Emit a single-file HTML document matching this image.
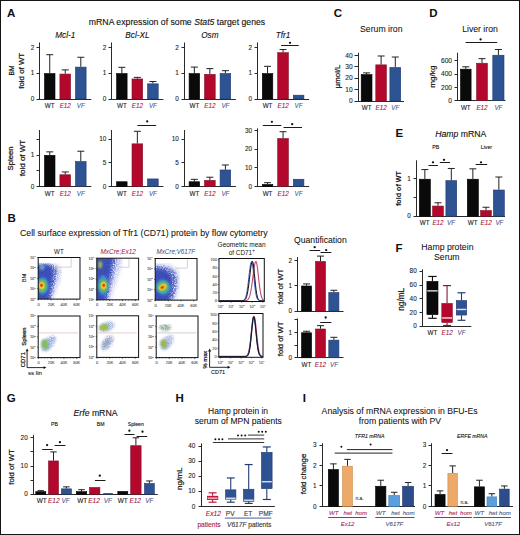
<!DOCTYPE html>
<html><head><meta charset="utf-8"><title>Figure</title>
<style>
html,body{margin:0;padding:0;background:#fff;}
body{width:520px;height:535px;overflow:hidden;position:relative;font-family:"Liberation Sans",sans-serif;}
#frame{position:absolute;left:0;top:0;width:518px;height:533px;border:1px solid #141414;}
svg{position:absolute;left:0;top:0;}
text{stroke-width:0.12px;}
</style></head><body>
<div id="frame"></div>
<svg width="520" height="535" viewBox="0 0 520 535" font-family="&quot;Liberation Sans&quot;, sans-serif"><defs><filter id="b0_5" x="-50%" y="-50%" width="200%" height="200%"><feGaussianBlur stdDeviation="0.5"/></filter><filter id="b0_6" x="-50%" y="-50%" width="200%" height="200%"><feGaussianBlur stdDeviation="0.6"/></filter><filter id="b0_7" x="-50%" y="-50%" width="200%" height="200%"><feGaussianBlur stdDeviation="0.7"/></filter><filter id="b0_8" x="-50%" y="-50%" width="200%" height="200%"><feGaussianBlur stdDeviation="0.8"/></filter><filter id="b0_9" x="-50%" y="-50%" width="200%" height="200%"><feGaussianBlur stdDeviation="0.9"/></filter><filter id="b1_0" x="-50%" y="-50%" width="200%" height="200%"><feGaussianBlur stdDeviation="1.0"/></filter><filter id="b1_2" x="-50%" y="-50%" width="200%" height="200%"><feGaussianBlur stdDeviation="1.2"/></filter><filter id="b1_3" x="-50%" y="-50%" width="200%" height="200%"><feGaussianBlur stdDeviation="1.3"/></filter><filter id="b1_4" x="-50%" y="-50%" width="200%" height="200%"><feGaussianBlur stdDeviation="1.4"/></filter><filter id="b2_0" x="-50%" y="-50%" width="200%" height="200%"><feGaussianBlur stdDeviation="2.0"/></filter><filter id="b2_2" x="-50%" y="-50%" width="200%" height="200%"><feGaussianBlur stdDeviation="2.2"/></filter><clipPath id="c0"><rect x="38.2" y="257.5" width="41.8" height="41.6"/></clipPath><clipPath id="c1"><rect x="96.8" y="258.2" width="41.8" height="41.6"/></clipPath><clipPath id="c2"><rect x="155.2" y="258.5" width="41.8" height="41.6"/></clipPath><clipPath id="c3"><rect x="38.2" y="316" width="41.8" height="41.6"/></clipPath><clipPath id="c4"><rect x="96.8" y="315.8" width="41.8" height="41.6"/></clipPath><clipPath id="c5"><rect x="156.2" y="316" width="41.8" height="41.6"/></clipPath><filter id="speck" x="0" y="0" width="100%" height="100%"><feTurbulence type="fractalNoise" baseFrequency="0.9" numOctaves="2" seed="7" result="n"/><feColorMatrix in="n" type="matrix" values="0 0 0 0 0  0 0 0 0 0  0 0 0 0 0  0 0 0 -2.2 1.85" result="m"/><feComposite in="SourceGraphic" in2="m" operator="in"/></filter></defs><text x="7" y="16.6" font-size="11.5" text-anchor="start" fill="#111" stroke="#111" font-weight="bold" style="stroke-width:0.05px">A</text>
<text x="333.8" y="16.6" font-size="11.5" text-anchor="start" fill="#111" stroke="#111" font-weight="bold" style="stroke-width:0.05px">C</text>
<text x="429.3" y="16.5" font-size="11.5" text-anchor="start" fill="#111" stroke="#111" font-weight="bold" style="stroke-width:0.05px">D</text>
<text x="395.6" y="136.7" font-size="11.5" text-anchor="start" fill="#111" stroke="#111" font-weight="bold" style="stroke-width:0.05px">E</text>
<text x="7.4" y="221.6" font-size="11.5" text-anchor="start" fill="#111" stroke="#111" font-weight="bold" style="stroke-width:0.05px">B</text>
<text x="395.6" y="251.6" font-size="11.5" text-anchor="start" fill="#111" stroke="#111" font-weight="bold" style="stroke-width:0.05px">F</text>
<text x="6.8" y="402" font-size="11.5" text-anchor="start" fill="#111" stroke="#111" font-weight="bold" style="stroke-width:0.05px">G</text>
<text x="175.4" y="401.9" font-size="11.5" text-anchor="start" fill="#111" stroke="#111" font-weight="bold" style="stroke-width:0.05px">H</text>
<text x="302.7" y="402.2" font-size="11.5" text-anchor="start" fill="#111" stroke="#111" font-weight="bold" style="stroke-width:0.05px">I</text>
<text x="177" y="25" font-size="8.7" text-anchor="middle" fill="#111" stroke="#111">mRNA expression of some <tspan font-style="italic">Stat5</tspan> target genes</text>
<text x="65.3" y="37.8" font-size="8.2" text-anchor="middle" fill="#111" stroke="#111" font-style="italic" style="stroke-width:0.1px">Mcl-1</text>
<line x1="39.5" y1="42.5" x2="39.5" y2="100" stroke="#2a2a2a" stroke-width="1"/>
<line x1="36.5" y1="47.5" x2="39.5" y2="47.5" stroke="#2a2a2a" stroke-width="1"/>
<text x="34.2" y="49.61" font-size="6.4" text-anchor="end" fill="#1e1e1e" stroke="#1e1e1e" style="stroke-width:0.1px">2</text>
<line x1="36.5" y1="73.5" x2="39.5" y2="73.5" stroke="#2a2a2a" stroke-width="1"/>
<text x="34.2" y="75.36" font-size="6.4" text-anchor="end" fill="#1e1e1e" stroke="#1e1e1e" style="stroke-width:0.1px">1</text>
<line x1="36.5" y1="99.5" x2="39.5" y2="99.5" stroke="#2a2a2a" stroke-width="1"/>
<text x="34.2" y="101.11" font-size="6.4" text-anchor="end" fill="#1e1e1e" stroke="#1e1e1e" style="stroke-width:0.1px">0</text>
<line x1="39" y1="99.5" x2="91.3" y2="99.5" stroke="#2a2a2a" stroke-width="1"/>
<line x1="49.75" y1="73.25" x2="49.75" y2="54.71" stroke="#222" stroke-width="1"/>
<line x1="46.25" y1="54.71" x2="53.25" y2="54.71" stroke="#222" stroke-width="1"/>
<rect x="44.5" y="73.55" width="10.5" height="25.45" fill="#0a0a0a" stroke="#000" stroke-width="0.6"/>
<line x1="65.25" y1="73.77" x2="65.25" y2="69.9" stroke="#222" stroke-width="1"/>
<line x1="61.75" y1="69.9" x2="68.75" y2="69.9" stroke="#222" stroke-width="1"/>
<rect x="59.9" y="74.06" width="10.7" height="24.93" fill="#b3082c" stroke="#82102c" stroke-width="0.6"/>
<line x1="80.8" y1="66.81" x2="80.8" y2="57.28" stroke="#222" stroke-width="1"/>
<line x1="77.3" y1="57.28" x2="84.3" y2="57.28" stroke="#222" stroke-width="1"/>
<rect x="75.5" y="67.11" width="10.6" height="31.89" fill="#2e5393" stroke="#1e3670" stroke-width="0.6"/>
<text x="49.75" y="108.1" font-size="6.3" text-anchor="middle" fill="#1a1a1a" stroke="#1a1a1a" style="stroke-width:0.1px">WT</text>
<text x="65.25" y="108.1" font-size="6.3" text-anchor="middle" fill="#a3163e" stroke="#a3163e" font-style="italic" style="stroke-width:0.1px">E12</text>
<text x="80.8" y="108.1" font-size="6.3" text-anchor="middle" fill="#4a5894" stroke="#4a5894" font-style="italic" style="stroke-width:0.1px">VF</text>
<text x="137.4" y="37.8" font-size="8.2" text-anchor="middle" fill="#111" stroke="#111" font-style="italic" style="stroke-width:0.1px">Bcl-XL</text>
<line x1="111.5" y1="42.5" x2="111.5" y2="100" stroke="#2a2a2a" stroke-width="1"/>
<line x1="108.5" y1="47.5" x2="111.5" y2="47.5" stroke="#2a2a2a" stroke-width="1"/>
<text x="106.3" y="49.61" font-size="6.4" text-anchor="end" fill="#1e1e1e" stroke="#1e1e1e" style="stroke-width:0.1px">2</text>
<line x1="108.5" y1="73.5" x2="111.5" y2="73.5" stroke="#2a2a2a" stroke-width="1"/>
<text x="106.3" y="75.36" font-size="6.4" text-anchor="end" fill="#1e1e1e" stroke="#1e1e1e" style="stroke-width:0.1px">1</text>
<line x1="108.5" y1="99.5" x2="111.5" y2="99.5" stroke="#2a2a2a" stroke-width="1"/>
<text x="106.3" y="101.11" font-size="6.4" text-anchor="end" fill="#1e1e1e" stroke="#1e1e1e" style="stroke-width:0.1px">0</text>
<line x1="111" y1="99.5" x2="163.4" y2="99.5" stroke="#2a2a2a" stroke-width="1"/>
<line x1="121.85" y1="73.25" x2="121.85" y2="67.33" stroke="#222" stroke-width="1"/>
<line x1="118.35" y1="67.33" x2="125.35" y2="67.33" stroke="#222" stroke-width="1"/>
<rect x="116.6" y="73.55" width="10.5" height="25.45" fill="#0a0a0a" stroke="#000" stroke-width="0.6"/>
<line x1="137.35" y1="78.66" x2="137.35" y2="77.37" stroke="#222" stroke-width="1"/>
<line x1="133.85" y1="77.37" x2="140.85" y2="77.37" stroke="#222" stroke-width="1"/>
<rect x="132" y="78.96" width="10.7" height="20.04" fill="#b3082c" stroke="#82102c" stroke-width="0.6"/>
<line x1="152.9" y1="83.55" x2="152.9" y2="81.49" stroke="#222" stroke-width="1"/>
<line x1="149.4" y1="81.49" x2="156.4" y2="81.49" stroke="#222" stroke-width="1"/>
<rect x="147.6" y="83.85" width="10.6" height="15.15" fill="#2e5393" stroke="#1e3670" stroke-width="0.6"/>
<text x="121.85" y="108.1" font-size="6.3" text-anchor="middle" fill="#1a1a1a" stroke="#1a1a1a" style="stroke-width:0.1px">WT</text>
<text x="137.35" y="108.1" font-size="6.3" text-anchor="middle" fill="#a3163e" stroke="#a3163e" font-style="italic" style="stroke-width:0.1px">E12</text>
<text x="152.9" y="108.1" font-size="6.3" text-anchor="middle" fill="#4a5894" stroke="#4a5894" font-style="italic" style="stroke-width:0.1px">VF</text>
<text x="209.9" y="37.8" font-size="8.2" text-anchor="middle" fill="#111" stroke="#111" font-style="italic" style="stroke-width:0.1px">Osm</text>
<line x1="184.5" y1="42.5" x2="184.5" y2="100" stroke="#2a2a2a" stroke-width="1"/>
<line x1="181.5" y1="47.5" x2="184.5" y2="47.5" stroke="#2a2a2a" stroke-width="1"/>
<text x="178.8" y="49.61" font-size="6.4" text-anchor="end" fill="#1e1e1e" stroke="#1e1e1e" style="stroke-width:0.1px">2</text>
<line x1="181.5" y1="73.5" x2="184.5" y2="73.5" stroke="#2a2a2a" stroke-width="1"/>
<text x="178.8" y="75.36" font-size="6.4" text-anchor="end" fill="#1e1e1e" stroke="#1e1e1e" style="stroke-width:0.1px">1</text>
<line x1="181.5" y1="99.5" x2="184.5" y2="99.5" stroke="#2a2a2a" stroke-width="1"/>
<text x="178.8" y="101.11" font-size="6.4" text-anchor="end" fill="#1e1e1e" stroke="#1e1e1e" style="stroke-width:0.1px">0</text>
<line x1="184" y1="99.5" x2="235.9" y2="99.5" stroke="#2a2a2a" stroke-width="1"/>
<line x1="194.35" y1="73.25" x2="194.35" y2="67.07" stroke="#222" stroke-width="1"/>
<line x1="190.85" y1="67.07" x2="197.85" y2="67.07" stroke="#222" stroke-width="1"/>
<rect x="189.1" y="73.55" width="10.5" height="25.45" fill="#0a0a0a" stroke="#000" stroke-width="0.6"/>
<line x1="209.85" y1="74.02" x2="209.85" y2="68.62" stroke="#222" stroke-width="1"/>
<line x1="206.35" y1="68.62" x2="213.35" y2="68.62" stroke="#222" stroke-width="1"/>
<rect x="204.5" y="74.32" width="10.7" height="24.68" fill="#b3082c" stroke="#82102c" stroke-width="0.6"/>
<line x1="225.4" y1="73.25" x2="225.4" y2="70.67" stroke="#222" stroke-width="1"/>
<line x1="221.9" y1="70.67" x2="228.9" y2="70.67" stroke="#222" stroke-width="1"/>
<rect x="220.1" y="73.55" width="10.6" height="25.45" fill="#2e5393" stroke="#1e3670" stroke-width="0.6"/>
<text x="194.35" y="108.1" font-size="6.3" text-anchor="middle" fill="#1a1a1a" stroke="#1a1a1a" style="stroke-width:0.1px">WT</text>
<text x="209.85" y="108.1" font-size="6.3" text-anchor="middle" fill="#a3163e" stroke="#a3163e" font-style="italic" style="stroke-width:0.1px">E12</text>
<text x="225.4" y="108.1" font-size="6.3" text-anchor="middle" fill="#4a5894" stroke="#4a5894" font-style="italic" style="stroke-width:0.1px">VF</text>
<text x="283.1" y="37.8" font-size="8.2" text-anchor="middle" fill="#111" stroke="#111" font-style="italic" style="stroke-width:0.1px">Tfr1</text>
<line x1="257.5" y1="42.5" x2="257.5" y2="100" stroke="#2a2a2a" stroke-width="1"/>
<line x1="254.5" y1="47.5" x2="257.5" y2="47.5" stroke="#2a2a2a" stroke-width="1"/>
<text x="252" y="49.61" font-size="6.4" text-anchor="end" fill="#1e1e1e" stroke="#1e1e1e" style="stroke-width:0.1px">2</text>
<line x1="254.5" y1="73.5" x2="257.5" y2="73.5" stroke="#2a2a2a" stroke-width="1"/>
<text x="252" y="75.36" font-size="6.4" text-anchor="end" fill="#1e1e1e" stroke="#1e1e1e" style="stroke-width:0.1px">1</text>
<line x1="254.5" y1="99.5" x2="257.5" y2="99.5" stroke="#2a2a2a" stroke-width="1"/>
<text x="252" y="101.11" font-size="6.4" text-anchor="end" fill="#1e1e1e" stroke="#1e1e1e" style="stroke-width:0.1px">0</text>
<line x1="257" y1="99.5" x2="309.1" y2="99.5" stroke="#2a2a2a" stroke-width="1"/>
<line x1="267.55" y1="73.25" x2="267.55" y2="66.3" stroke="#222" stroke-width="1"/>
<line x1="264.05" y1="66.3" x2="271.05" y2="66.3" stroke="#222" stroke-width="1"/>
<rect x="262.3" y="73.55" width="10.5" height="25.45" fill="#0a0a0a" stroke="#000" stroke-width="0.6"/>
<line x1="283.05" y1="52.39" x2="283.05" y2="49.56" stroke="#222" stroke-width="1"/>
<line x1="279.55" y1="49.56" x2="286.55" y2="49.56" stroke="#222" stroke-width="1"/>
<rect x="277.7" y="52.69" width="10.7" height="46.31" fill="#b3082c" stroke="#82102c" stroke-width="0.6"/>
<rect x="293.3" y="95.18" width="10.6" height="3.82" fill="#2e5393" stroke="#1e3670" stroke-width="0.6"/>
<text x="267.55" y="108.1" font-size="6.3" text-anchor="middle" fill="#1a1a1a" stroke="#1a1a1a" style="stroke-width:0.1px">WT</text>
<text x="283.05" y="108.1" font-size="6.3" text-anchor="middle" fill="#a3163e" stroke="#a3163e" font-style="italic" style="stroke-width:0.1px">E12</text>
<text x="298.6" y="108.1" font-size="6.3" text-anchor="middle" fill="#4a5894" stroke="#4a5894" font-style="italic" style="stroke-width:0.1px">VF</text>
<line x1="281.1" y1="45.5" x2="298.7" y2="45.5" stroke="#1a1a1a" stroke-width="1"/>
<circle cx="290" cy="42.8" r="1.15" fill="#111"/>
<line x1="39.5" y1="130" x2="39.5" y2="187" stroke="#2a2a2a" stroke-width="1"/>
<line x1="36.5" y1="139.5" x2="39.5" y2="139.5" stroke="#2a2a2a" stroke-width="1"/>
<line x1="36.5" y1="155.5" x2="39.5" y2="155.5" stroke="#2a2a2a" stroke-width="1"/>
<text x="34.2" y="157.11" font-size="6.4" text-anchor="end" fill="#1e1e1e" stroke="#1e1e1e" style="stroke-width:0.1px">1</text>
<line x1="36.5" y1="170.5" x2="39.5" y2="170.5" stroke="#2a2a2a" stroke-width="1"/>
<line x1="36.5" y1="186.5" x2="39.5" y2="186.5" stroke="#2a2a2a" stroke-width="1"/>
<text x="34.2" y="188.51" font-size="6.4" text-anchor="end" fill="#1e1e1e" stroke="#1e1e1e" style="stroke-width:0.1px">0</text>
<line x1="39" y1="186.5" x2="91.3" y2="186.5" stroke="#2a2a2a" stroke-width="1"/>
<line x1="49.75" y1="155" x2="49.75" y2="151.86" stroke="#222" stroke-width="1"/>
<line x1="46.25" y1="151.86" x2="53.25" y2="151.86" stroke="#222" stroke-width="1"/>
<rect x="44.5" y="155.3" width="10.5" height="31.1" fill="#0a0a0a" stroke="#000" stroke-width="0.6"/>
<line x1="65.25" y1="174.47" x2="65.25" y2="171.96" stroke="#222" stroke-width="1"/>
<line x1="61.75" y1="171.96" x2="68.75" y2="171.96" stroke="#222" stroke-width="1"/>
<rect x="59.9" y="174.77" width="10.7" height="11.63" fill="#b3082c" stroke="#82102c" stroke-width="0.6"/>
<line x1="80.8" y1="161.28" x2="80.8" y2="151.23" stroke="#222" stroke-width="1"/>
<line x1="77.3" y1="151.23" x2="84.3" y2="151.23" stroke="#222" stroke-width="1"/>
<rect x="75.5" y="161.58" width="10.6" height="24.82" fill="#2e5393" stroke="#1e3670" stroke-width="0.6"/>
<text x="49.75" y="196.2" font-size="6.3" text-anchor="middle" fill="#1a1a1a" stroke="#1a1a1a" style="stroke-width:0.1px">WT</text>
<text x="65.25" y="196.2" font-size="6.3" text-anchor="middle" fill="#a3163e" stroke="#a3163e" font-style="italic" style="stroke-width:0.1px">E12</text>
<text x="80.8" y="196.2" font-size="6.3" text-anchor="middle" fill="#4a5894" stroke="#4a5894" font-style="italic" style="stroke-width:0.1px">VF</text>
<line x1="111.5" y1="130" x2="111.5" y2="187" stroke="#2a2a2a" stroke-width="1"/>
<line x1="108.5" y1="139.5" x2="111.5" y2="139.5" stroke="#2a2a2a" stroke-width="1"/>
<text x="106.3" y="141.41" font-size="6.4" text-anchor="end" fill="#1e1e1e" stroke="#1e1e1e" style="stroke-width:0.1px">10</text>
<line x1="108.5" y1="162.5" x2="111.5" y2="162.5" stroke="#2a2a2a" stroke-width="1"/>
<text x="106.3" y="164.96" font-size="6.4" text-anchor="end" fill="#1e1e1e" stroke="#1e1e1e" style="stroke-width:0.1px">5</text>
<line x1="108.5" y1="186.5" x2="111.5" y2="186.5" stroke="#2a2a2a" stroke-width="1"/>
<text x="106.3" y="188.51" font-size="6.4" text-anchor="end" fill="#1e1e1e" stroke="#1e1e1e" style="stroke-width:0.1px">0</text>
<line x1="111" y1="186.5" x2="163.4" y2="186.5" stroke="#2a2a2a" stroke-width="1"/>
<rect x="116.6" y="181.75" width="10.5" height="4.65" fill="#0a0a0a" stroke="#000" stroke-width="0.6"/>
<line x1="137.35" y1="143.54" x2="137.35" y2="131.29" stroke="#222" stroke-width="1"/>
<line x1="133.85" y1="131.29" x2="140.85" y2="131.29" stroke="#222" stroke-width="1"/>
<rect x="132" y="143.84" width="10.7" height="42.56" fill="#b3082c" stroke="#82102c" stroke-width="0.6"/>
<rect x="147.6" y="178.93" width="10.6" height="7.47" fill="#2e5393" stroke="#1e3670" stroke-width="0.6"/>
<text x="121.85" y="196.2" font-size="6.3" text-anchor="middle" fill="#1a1a1a" stroke="#1a1a1a" style="stroke-width:0.1px">WT</text>
<text x="137.35" y="196.2" font-size="6.3" text-anchor="middle" fill="#a3163e" stroke="#a3163e" font-style="italic" style="stroke-width:0.1px">E12</text>
<text x="152.9" y="196.2" font-size="6.3" text-anchor="middle" fill="#4a5894" stroke="#4a5894" font-style="italic" style="stroke-width:0.1px">VF</text>
<line x1="184.5" y1="130" x2="184.5" y2="187" stroke="#2a2a2a" stroke-width="1"/>
<line x1="181.5" y1="139.5" x2="184.5" y2="139.5" stroke="#2a2a2a" stroke-width="1"/>
<text x="178.8" y="141.41" font-size="6.4" text-anchor="end" fill="#1e1e1e" stroke="#1e1e1e" style="stroke-width:0.1px">10</text>
<line x1="181.5" y1="162.5" x2="184.5" y2="162.5" stroke="#2a2a2a" stroke-width="1"/>
<text x="178.8" y="164.96" font-size="6.4" text-anchor="end" fill="#1e1e1e" stroke="#1e1e1e" style="stroke-width:0.1px">5</text>
<line x1="181.5" y1="186.5" x2="184.5" y2="186.5" stroke="#2a2a2a" stroke-width="1"/>
<text x="178.8" y="188.51" font-size="6.4" text-anchor="end" fill="#1e1e1e" stroke="#1e1e1e" style="stroke-width:0.1px">0</text>
<line x1="184" y1="186.5" x2="235.9" y2="186.5" stroke="#2a2a2a" stroke-width="1"/>
<line x1="194.35" y1="181.45" x2="194.35" y2="179.34" stroke="#222" stroke-width="1"/>
<line x1="190.85" y1="179.34" x2="197.85" y2="179.34" stroke="#222" stroke-width="1"/>
<rect x="189.1" y="181.75" width="10.5" height="4.65" fill="#0a0a0a" stroke="#000" stroke-width="0.6"/>
<line x1="209.85" y1="180.04" x2="209.85" y2="177.22" stroke="#222" stroke-width="1"/>
<line x1="206.35" y1="177.22" x2="213.35" y2="177.22" stroke="#222" stroke-width="1"/>
<rect x="204.5" y="180.34" width="10.7" height="6.06" fill="#b3082c" stroke="#82102c" stroke-width="0.6"/>
<line x1="225.4" y1="169.68" x2="225.4" y2="164.97" stroke="#222" stroke-width="1"/>
<line x1="221.9" y1="164.97" x2="228.9" y2="164.97" stroke="#222" stroke-width="1"/>
<rect x="220.1" y="169.98" width="10.6" height="16.42" fill="#2e5393" stroke="#1e3670" stroke-width="0.6"/>
<text x="194.35" y="196.2" font-size="6.3" text-anchor="middle" fill="#1a1a1a" stroke="#1a1a1a" style="stroke-width:0.1px">WT</text>
<text x="209.85" y="196.2" font-size="6.3" text-anchor="middle" fill="#a3163e" stroke="#a3163e" font-style="italic" style="stroke-width:0.1px">E12</text>
<text x="225.4" y="196.2" font-size="6.3" text-anchor="middle" fill="#4a5894" stroke="#4a5894" font-style="italic" style="stroke-width:0.1px">VF</text>
<line x1="137.4" y1="125.5" x2="156.2" y2="125.5" stroke="#1a1a1a" stroke-width="1"/>
<circle cx="147.2" cy="121.4" r="1.15" fill="#111"/>
<line x1="257.5" y1="128.3" x2="257.5" y2="187" stroke="#2a2a2a" stroke-width="1"/>
<line x1="254.5" y1="130.5" x2="257.5" y2="130.5" stroke="#2a2a2a" stroke-width="1"/>
<text x="252" y="132.71" font-size="6.4" text-anchor="end" fill="#1e1e1e" stroke="#1e1e1e" style="stroke-width:0.1px">30</text>
<line x1="254.5" y1="149.5" x2="257.5" y2="149.5" stroke="#2a2a2a" stroke-width="1"/>
<text x="252" y="151.31" font-size="6.4" text-anchor="end" fill="#1e1e1e" stroke="#1e1e1e" style="stroke-width:0.1px">20</text>
<line x1="254.5" y1="167.5" x2="257.5" y2="167.5" stroke="#2a2a2a" stroke-width="1"/>
<text x="252" y="169.91" font-size="6.4" text-anchor="end" fill="#1e1e1e" stroke="#1e1e1e" style="stroke-width:0.1px">10</text>
<line x1="254.5" y1="186.5" x2="257.5" y2="186.5" stroke="#2a2a2a" stroke-width="1"/>
<text x="252" y="188.51" font-size="6.4" text-anchor="end" fill="#1e1e1e" stroke="#1e1e1e" style="stroke-width:0.1px">0</text>
<line x1="257" y1="186.5" x2="309.1" y2="186.5" stroke="#2a2a2a" stroke-width="1"/>
<line x1="267.55" y1="184.17" x2="267.55" y2="182.68" stroke="#222" stroke-width="1"/>
<line x1="264.05" y1="182.68" x2="271.05" y2="182.68" stroke="#222" stroke-width="1"/>
<rect x="262.3" y="184.47" width="10.5" height="1.93" fill="#0a0a0a" stroke="#000" stroke-width="0.6"/>
<line x1="283.05" y1="138.23" x2="283.05" y2="131.72" stroke="#222" stroke-width="1"/>
<line x1="279.55" y1="131.72" x2="286.55" y2="131.72" stroke="#222" stroke-width="1"/>
<rect x="277.7" y="138.53" width="10.7" height="47.87" fill="#b3082c" stroke="#82102c" stroke-width="0.6"/>
<rect x="293.3" y="179.26" width="10.6" height="7.14" fill="#2e5393" stroke="#1e3670" stroke-width="0.6"/>
<text x="267.55" y="196.2" font-size="6.3" text-anchor="middle" fill="#1a1a1a" stroke="#1a1a1a" style="stroke-width:0.1px">WT</text>
<text x="283.05" y="196.2" font-size="6.3" text-anchor="middle" fill="#a3163e" stroke="#a3163e" font-style="italic" style="stroke-width:0.1px">E12</text>
<text x="298.6" y="196.2" font-size="6.3" text-anchor="middle" fill="#4a5894" stroke="#4a5894" font-style="italic" style="stroke-width:0.1px">VF</text>
<line x1="262.8" y1="125.5" x2="281.3" y2="125.5" stroke="#1a1a1a" stroke-width="1"/>
<circle cx="271.9" cy="121.8" r="1.15" fill="#111"/>
<line x1="283.5" y1="127.5" x2="302" y2="127.5" stroke="#1a1a1a" stroke-width="1"/>
<circle cx="292.2" cy="124.2" r="1.15" fill="#111"/>
<text x="13.6" y="70.5" font-size="7.2" text-anchor="middle" fill="#111" stroke="#111" textLength="10" lengthAdjust="spacingAndGlyphs" style="stroke-width:0.22px" transform="rotate(-90 13.6 70.5)">BM</text>
<text x="24.5" y="70.8" font-size="7.9" text-anchor="middle" fill="#111" stroke="#111" style="stroke-width:0.22px" transform="rotate(-90 24.5 70.8)">fold of WT</text>
<text x="13.3" y="158.5" font-size="7.7" text-anchor="middle" fill="#111" stroke="#111" style="stroke-width:0.22px" transform="rotate(-90 13.3 158.5)">Spleen</text>
<text x="24.5" y="158" font-size="8" text-anchor="middle" fill="#111" stroke="#111" style="stroke-width:0.22px" transform="rotate(-90 24.5 158)">fold of WT</text>
<text x="381.3" y="32" font-size="8.7" text-anchor="middle" fill="#111" stroke="#111" style="stroke-width:0.06px">Serum iron</text>
<line x1="358.5" y1="52.7" x2="358.5" y2="102" stroke="#2a2a2a" stroke-width="1"/>
<line x1="354.5" y1="55.5" x2="358.5" y2="55.5" stroke="#2a2a2a" stroke-width="1"/>
<text x="352.7" y="57.6" font-size="6.6" text-anchor="end" fill="#1e1e1e" stroke="#1e1e1e" style="stroke-width:0.1px">40</text>
<line x1="354.5" y1="66.5" x2="358.5" y2="66.5" stroke="#2a2a2a" stroke-width="1"/>
<text x="352.7" y="69.02" font-size="6.6" text-anchor="end" fill="#1e1e1e" stroke="#1e1e1e" style="stroke-width:0.1px">30</text>
<line x1="354.5" y1="78.5" x2="358.5" y2="78.5" stroke="#2a2a2a" stroke-width="1"/>
<text x="352.7" y="80.44" font-size="6.6" text-anchor="end" fill="#1e1e1e" stroke="#1e1e1e" style="stroke-width:0.1px">20</text>
<line x1="354.5" y1="89.5" x2="358.5" y2="89.5" stroke="#2a2a2a" stroke-width="1"/>
<text x="352.7" y="91.86" font-size="6.6" text-anchor="end" fill="#1e1e1e" stroke="#1e1e1e" style="stroke-width:0.1px">10</text>
<line x1="354.5" y1="101.5" x2="358.5" y2="101.5" stroke="#2a2a2a" stroke-width="1"/>
<text x="352.7" y="103.28" font-size="6.6" text-anchor="end" fill="#1e1e1e" stroke="#1e1e1e" style="stroke-width:0.1px">0</text>
<line x1="358" y1="101.5" x2="404" y2="101.5" stroke="#2a2a2a" stroke-width="1"/>
<line x1="366.6" y1="74.26" x2="366.6" y2="72.89" stroke="#222" stroke-width="1"/>
<line x1="363.1" y1="72.89" x2="370.1" y2="72.89" stroke="#222" stroke-width="1"/>
<rect x="361.2" y="74.56" width="10.8" height="26.54" fill="#0a0a0a" stroke="#000" stroke-width="0.6"/>
<line x1="381.1" y1="64.56" x2="381.1" y2="55.99" stroke="#222" stroke-width="1"/>
<line x1="377.6" y1="55.99" x2="384.6" y2="55.99" stroke="#222" stroke-width="1"/>
<rect x="375.8" y="64.86" width="10.6" height="36.24" fill="#b3082c" stroke="#82102c" stroke-width="0.6"/>
<line x1="395.3" y1="67.18" x2="395.3" y2="57.02" stroke="#222" stroke-width="1"/>
<line x1="391.8" y1="57.02" x2="398.8" y2="57.02" stroke="#222" stroke-width="1"/>
<rect x="389.9" y="67.48" width="10.8" height="33.62" fill="#2e5393" stroke="#1e3670" stroke-width="0.6"/>
<text x="366.6" y="109.6" font-size="6.3" text-anchor="middle" fill="#1a1a1a" stroke="#1a1a1a" style="stroke-width:0.1px">WT</text>
<text x="381.1" y="109.6" font-size="6.3" text-anchor="middle" fill="#a3163e" stroke="#a3163e" font-style="italic" style="stroke-width:0.1px">E12</text>
<text x="395.3" y="109.6" font-size="6.3" text-anchor="middle" fill="#4a5894" stroke="#4a5894" font-style="italic" style="stroke-width:0.1px">VF</text>
<text x="340.2" y="76.4" font-size="7.8" text-anchor="middle" fill="#111" stroke="#111" style="stroke-width:0.22px" transform="rotate(-90 340.2 76.4)">µmol/L</text>
<text x="480" y="32" font-size="8.7" text-anchor="middle" fill="#111" stroke="#111" style="stroke-width:0.06px">Liver iron</text>
<line x1="457.5" y1="52.7" x2="457.5" y2="101" stroke="#2a2a2a" stroke-width="1"/>
<line x1="454.5" y1="60.5" x2="457.5" y2="60.5" stroke="#2a2a2a" stroke-width="1"/>
<text x="452" y="62.83" font-size="6.6" text-anchor="end" fill="#1e1e1e" stroke="#1e1e1e" style="stroke-width:0.1px">600</text>
<line x1="454.5" y1="74.5" x2="457.5" y2="74.5" stroke="#2a2a2a" stroke-width="1"/>
<text x="452" y="76.18" font-size="6.6" text-anchor="end" fill="#1e1e1e" stroke="#1e1e1e" style="stroke-width:0.1px">400</text>
<line x1="454.5" y1="87.5" x2="457.5" y2="87.5" stroke="#2a2a2a" stroke-width="1"/>
<text x="452" y="89.53" font-size="6.6" text-anchor="end" fill="#1e1e1e" stroke="#1e1e1e" style="stroke-width:0.1px">200</text>
<line x1="454.5" y1="100.5" x2="457.5" y2="100.5" stroke="#2a2a2a" stroke-width="1"/>
<text x="452" y="102.88" font-size="6.6" text-anchor="end" fill="#1e1e1e" stroke="#1e1e1e" style="stroke-width:0.1px">0</text>
<line x1="457" y1="100.5" x2="505.5" y2="100.5" stroke="#2a2a2a" stroke-width="1"/>
<line x1="465.8" y1="68.86" x2="465.8" y2="66.79" stroke="#222" stroke-width="1"/>
<line x1="462.3" y1="66.79" x2="469.3" y2="66.79" stroke="#222" stroke-width="1"/>
<rect x="460.5" y="69.16" width="10.6" height="31.54" fill="#0a0a0a" stroke="#000" stroke-width="0.6"/>
<line x1="482" y1="62.92" x2="482" y2="58.65" stroke="#222" stroke-width="1"/>
<line x1="478.5" y1="58.65" x2="485.5" y2="58.65" stroke="#222" stroke-width="1"/>
<rect x="476.6" y="63.22" width="10.8" height="37.48" fill="#b3082c" stroke="#82102c" stroke-width="0.6"/>
<line x1="498.4" y1="54.91" x2="498.4" y2="49.5" stroke="#222" stroke-width="1"/>
<line x1="494.9" y1="49.5" x2="501.9" y2="49.5" stroke="#222" stroke-width="1"/>
<rect x="492.8" y="55.21" width="11.2" height="45.49" fill="#2e5393" stroke="#1e3670" stroke-width="0.6"/>
<text x="465.8" y="109.6" font-size="6.3" text-anchor="middle" fill="#1a1a1a" stroke="#1a1a1a" style="stroke-width:0.1px">WT</text>
<text x="482" y="109.6" font-size="6.3" text-anchor="middle" fill="#a3163e" stroke="#a3163e" font-style="italic" style="stroke-width:0.1px">E12</text>
<text x="498.4" y="109.6" font-size="6.3" text-anchor="middle" fill="#4a5894" stroke="#4a5894" font-style="italic" style="stroke-width:0.1px">VF</text>
<line x1="465.6" y1="42.5" x2="497.2" y2="42.5" stroke="#1a1a1a" stroke-width="1"/>
<circle cx="480.6" cy="39.4" r="1.15" fill="#111"/>
<text x="435.2" y="76.6" font-size="8.1" text-anchor="middle" fill="#111" stroke="#111" style="stroke-width:0.22px" transform="rotate(-90 435.2 76.6)">mg/kg</text>
<text x="460.8" y="137.1" font-size="8.7" text-anchor="middle" fill="#111" stroke="#111"><tspan font-style="italic">Hamp</tspan> mRNA</text>
<text x="435.8" y="148.6" font-size="5.2" text-anchor="middle" fill="#111" stroke="#111" style="stroke-width:0.1px">PB</text>
<text x="486.4" y="148.6" font-size="5.2" text-anchor="middle" fill="#111" stroke="#111" style="stroke-width:0.1px">Liver</text>
<line x1="416.5" y1="160.3" x2="416.5" y2="217" stroke="#2a2a2a" stroke-width="1"/>
<line x1="413.5" y1="178.5" x2="416.5" y2="178.5" stroke="#2a2a2a" stroke-width="1"/>
<text x="410.8" y="181.01" font-size="6.4" text-anchor="end" fill="#1e1e1e" stroke="#1e1e1e" style="stroke-width:0.1px">1</text>
<line x1="413.5" y1="197.5" x2="416.5" y2="197.5" stroke="#2a2a2a" stroke-width="1"/>
<line x1="413.5" y1="216.5" x2="416.5" y2="216.5" stroke="#2a2a2a" stroke-width="1"/>
<text x="410.8" y="218.31" font-size="6.4" text-anchor="end" fill="#1e1e1e" stroke="#1e1e1e" style="stroke-width:0.1px">0</text>
<line x1="416" y1="216.5" x2="505" y2="216.5" stroke="#2a2a2a" stroke-width="1"/>
<line x1="424.85" y1="178.9" x2="424.85" y2="169.57" stroke="#222" stroke-width="1"/>
<line x1="421.35" y1="169.57" x2="428.35" y2="169.57" stroke="#222" stroke-width="1"/>
<rect x="419.3" y="179.2" width="11.1" height="37" fill="#0a0a0a" stroke="#000" stroke-width="0.6"/>
<line x1="438" y1="205.76" x2="438" y2="202.77" stroke="#222" stroke-width="1"/>
<line x1="434.5" y1="202.77" x2="441.5" y2="202.77" stroke="#222" stroke-width="1"/>
<rect x="432.6" y="206.06" width="10.8" height="10.14" fill="#b3082c" stroke="#82102c" stroke-width="0.6"/>
<line x1="451.3" y1="180.39" x2="451.3" y2="168.46" stroke="#222" stroke-width="1"/>
<line x1="447.8" y1="168.46" x2="454.8" y2="168.46" stroke="#222" stroke-width="1"/>
<rect x="445.9" y="180.69" width="10.8" height="35.51" fill="#2e5393" stroke="#1e3670" stroke-width="0.6"/>
<line x1="472.85" y1="178.9" x2="472.85" y2="168.83" stroke="#222" stroke-width="1"/>
<line x1="469.35" y1="168.83" x2="476.35" y2="168.83" stroke="#222" stroke-width="1"/>
<rect x="467.3" y="179.2" width="11.1" height="37" fill="#0a0a0a" stroke="#000" stroke-width="0.6"/>
<line x1="486" y1="210.23" x2="486" y2="207.25" stroke="#222" stroke-width="1"/>
<line x1="482.5" y1="207.25" x2="489.5" y2="207.25" stroke="#222" stroke-width="1"/>
<rect x="480.6" y="210.53" width="10.8" height="5.67" fill="#b3082c" stroke="#82102c" stroke-width="0.6"/>
<line x1="498.85" y1="189.72" x2="498.85" y2="177.03" stroke="#222" stroke-width="1"/>
<line x1="495.35" y1="177.03" x2="502.35" y2="177.03" stroke="#222" stroke-width="1"/>
<rect x="493.4" y="190.02" width="10.9" height="26.18" fill="#2e5393" stroke="#1e3670" stroke-width="0.6"/>
<line x1="428.5" y1="165.5" x2="437.9" y2="165.5" stroke="#1a1a1a" stroke-width="1"/>
<circle cx="433" cy="162.3" r="1.15" fill="#111"/>
<line x1="439.8" y1="162.5" x2="450" y2="162.5" stroke="#1a1a1a" stroke-width="1"/>
<circle cx="444" cy="159.8" r="1.15" fill="#111"/>
<line x1="475.6" y1="164.5" x2="487.2" y2="164.5" stroke="#1a1a1a" stroke-width="1"/>
<circle cx="481" cy="162.3" r="1.15" fill="#111"/>
<text x="424.6" y="225.3" font-size="6.3" text-anchor="middle" fill="#1a1a1a" stroke="#1a1a1a" style="stroke-width:0.1px">WT</text>
<text x="438" y="225.3" font-size="6.3" text-anchor="middle" fill="#a3163e" stroke="#a3163e" font-style="italic" style="stroke-width:0.1px">E12</text>
<text x="451" y="225.3" font-size="6.3" text-anchor="middle" fill="#4a5894" stroke="#4a5894" font-style="italic" style="stroke-width:0.1px">VF</text>
<text x="472.6" y="225.3" font-size="6.3" text-anchor="middle" fill="#1a1a1a" stroke="#1a1a1a" style="stroke-width:0.1px">WT</text>
<text x="486.2" y="225.3" font-size="6.3" text-anchor="middle" fill="#a3163e" stroke="#a3163e" font-style="italic" style="stroke-width:0.1px">E12</text>
<text x="499.4" y="225.3" font-size="6.3" text-anchor="middle" fill="#4a5894" stroke="#4a5894" font-style="italic" style="stroke-width:0.1px">VF</text>
<text x="401" y="188.6" font-size="7.4" text-anchor="middle" fill="#111" stroke="#111" font-weight="bold" textLength="35" lengthAdjust="spacingAndGlyphs" style="stroke-width:0.05px" transform="rotate(-90 401 188.6)">fold of WT</text>
<text x="447.4" y="250" font-size="8.7" text-anchor="middle" fill="#111" stroke="#111" style="stroke-width:0.06px">Hamp protein</text>
<text x="446.8" y="260.2" font-size="8.7" text-anchor="middle" fill="#111" stroke="#111" style="stroke-width:0.06px">Serum</text>
<line x1="422.5" y1="269.3" x2="422.5" y2="327" stroke="#2a2a2a" stroke-width="1"/>
<line x1="419.5" y1="271.5" x2="422.5" y2="271.5" stroke="#2a2a2a" stroke-width="1"/>
<text x="416.7" y="273.43" font-size="6.4" text-anchor="end" fill="#1e1e1e" stroke="#1e1e1e" style="stroke-width:0.1px">80</text>
<line x1="419.5" y1="285.5" x2="422.5" y2="285.5" stroke="#2a2a2a" stroke-width="1"/>
<text x="416.7" y="287.15" font-size="6.4" text-anchor="end" fill="#1e1e1e" stroke="#1e1e1e" style="stroke-width:0.1px">60</text>
<line x1="419.5" y1="298.5" x2="422.5" y2="298.5" stroke="#2a2a2a" stroke-width="1"/>
<text x="416.7" y="300.87" font-size="6.4" text-anchor="end" fill="#1e1e1e" stroke="#1e1e1e" style="stroke-width:0.1px">40</text>
<line x1="419.5" y1="312.5" x2="422.5" y2="312.5" stroke="#2a2a2a" stroke-width="1"/>
<text x="416.7" y="314.59" font-size="6.4" text-anchor="end" fill="#1e1e1e" stroke="#1e1e1e" style="stroke-width:0.1px">20</text>
<line x1="419.5" y1="326.5" x2="422.5" y2="326.5" stroke="#2a2a2a" stroke-width="1"/>
<text x="416.7" y="328.31" font-size="6.4" text-anchor="end" fill="#1e1e1e" stroke="#1e1e1e" style="stroke-width:0.1px">0</text>
<line x1="422" y1="326.5" x2="471.3" y2="326.5" stroke="#2a2a2a" stroke-width="1"/>
<line x1="432.45" y1="276.46" x2="432.45" y2="281.06" stroke="#111" stroke-width="1.1"/>
<line x1="432.45" y1="314.95" x2="432.45" y2="318.31" stroke="#111" stroke-width="1.1"/>
<line x1="428.24" y1="276.46" x2="436.66" y2="276.46" stroke="#111" stroke-width="1.2"/>
<line x1="428.24" y1="318.31" x2="436.66" y2="318.31" stroke="#111" stroke-width="1.2"/>
<rect x="426.9" y="281.36" width="11.1" height="33.29" fill="#0a0a0a" stroke="#000" stroke-width="0.6"/>
<line x1="427.2" y1="290.87" x2="437.7" y2="290.87" stroke="#dedede" stroke-width="1.4"/>
<line x1="447.05" y1="285.59" x2="447.05" y2="303.15" stroke="#8c1432" stroke-width="1.1"/>
<line x1="447.05" y1="322.77" x2="447.05" y2="325.51" stroke="#8c1432" stroke-width="1.1"/>
<line x1="443.05" y1="285.59" x2="451.05" y2="285.59" stroke="#8c1432" stroke-width="1.2"/>
<line x1="443.05" y1="325.51" x2="451.05" y2="325.51" stroke="#8c1432" stroke-width="1.2"/>
<rect x="441.8" y="303.45" width="10.5" height="19.02" fill="#b3082c" stroke="#82102c" stroke-width="0.6"/>
<line x1="442.1" y1="317.97" x2="452" y2="317.97" stroke="#f6dce2" stroke-width="1.4"/>
<line x1="461.5" y1="292.79" x2="461.5" y2="300.27" stroke="#243c74" stroke-width="1.1"/>
<line x1="461.5" y1="315.36" x2="461.5" y2="320.3" stroke="#243c74" stroke-width="1.1"/>
<line x1="457.54" y1="292.79" x2="465.46" y2="292.79" stroke="#243c74" stroke-width="1.2"/>
<line x1="457.54" y1="320.3" x2="465.46" y2="320.3" stroke="#243c74" stroke-width="1.2"/>
<rect x="456.3" y="300.57" width="10.4" height="14.49" fill="#2e5393" stroke="#1e3670" stroke-width="0.6"/>
<line x1="456.6" y1="309.46" x2="466.4" y2="309.46" stroke="#dce4f4" stroke-width="1.4"/>
<text x="432.4" y="335.4" font-size="6.3" text-anchor="middle" fill="#1a1a1a" stroke="#1a1a1a" style="stroke-width:0.1px">WT</text>
<text x="447.1" y="335.4" font-size="6.3" text-anchor="middle" fill="#a3163e" stroke="#a3163e" font-style="italic" style="stroke-width:0.1px">E12</text>
<text x="461.5" y="335.4" font-size="6.3" text-anchor="middle" fill="#4a5894" stroke="#4a5894" font-style="italic" style="stroke-width:0.1px">VF</text>
<text x="404" y="299.3" font-size="8.2" text-anchor="middle" fill="#111" stroke="#111" style="stroke-width:0.22px" transform="rotate(-90 404 299.3)">ng/mL</text>
<text x="20" y="236" font-size="8.7" text-anchor="start" fill="#111" stroke="#111" textLength="247.5" lengthAdjust="spacingAndGlyphs" style="stroke-width:0.06px">Cell surface expression of Tfr1 (CD71) protein by flow cytometry</text>
<text x="58.9" y="254.1" font-size="6.8" text-anchor="middle" fill="#111" stroke="#111" textLength="9.6" lengthAdjust="spacingAndGlyphs" style="stroke-width:0.02px">WT</text>
<text x="118.2" y="253.9" font-size="6.8" text-anchor="middle" fill="#a3163e" stroke="#a3163e" font-style="italic" textLength="35.5" lengthAdjust="spacingAndGlyphs" style="stroke-width:0.02px">MxCre;Ex12</text>
<text x="175.8" y="253.9" font-size="6.8" text-anchor="middle" fill="#3e4a7c" stroke="#3e4a7c" font-style="italic" textLength="38.5" lengthAdjust="spacingAndGlyphs" style="stroke-width:0.02px">MxCre;V617F</text>
<text x="241.6" y="246.8" font-size="6.4" text-anchor="middle" fill="#111" stroke="#111" textLength="48" lengthAdjust="spacingAndGlyphs" style="stroke-width:0.01px">Geometric mean</text>
<text x="241.8" y="254.6" font-size="6.4" text-anchor="middle" fill="#111" stroke="#111" style="stroke-width:0.01px">of CD71<tspan font-size="4.6" dy="-2.6">+</tspan></text>
<g clip-path="url(#c0)"><g filter="url(#speck)">
<path transform="translate(38.2 257.5)" d="M-2 7 C8 5 22 6 23 12 C24 20 17 32 14 43 L-2 43 Z" fill="#8e9ce0" opacity="0.6" filter="url(#b2_0)"/>
<path transform="translate(38.2 257.5)" d="M-2 7.5 C6 5.5 17 6 18.5 11 C20 18 15 30 12.5 43 L-2 43 Z" fill="#4658c4" opacity="0.9" filter="url(#b0_9)"/>
</g>
<path transform="translate(38.2 257.5)" d="M-2 8 C5 6.5 13 7 14.5 11.5 C16 18 12 30 10 43 L-2 43 Z" fill="#3448b4" opacity="0.9" filter="url(#b1_4)"/>
</g>
<g clip-path="url(#c0)">
<ellipse cx="42" cy="267.3" rx="2.4" ry="2.8" fill="#78c0d8" opacity="0.75" filter="url(#b0_9)"/>
<ellipse cx="42.5" cy="285.8" rx="6" ry="8.4" fill="#3fa6d6" opacity="0.85" filter="url(#b1_0)"/>
<ellipse cx="42.2" cy="285.7" rx="4.4" ry="6" fill="#74c44c" opacity="1" filter="url(#b0_9)"/>
<ellipse cx="41.8" cy="285.5" rx="2.8" ry="3.6" fill="#ecd42c" opacity="1" filter="url(#b0_7)"/>
<ellipse cx="41.6" cy="285.3" rx="1.8" ry="2.1" fill="#ee7e1c" opacity="1" filter="url(#b0_6)"/>
<ellipse cx="41.4" cy="285.3" rx="0.9" ry="1" fill="#d42a10" opacity="1" filter="url(#b0_5)"/>
</g>
<g clip-path="url(#c1)"><g filter="url(#speck)">
<path transform="translate(96.8 258.2)" d="M-2 -1 L26 -1 C24 10 17 28 13 43 L-2 43 Z" fill="#8e9ce0" opacity="0.6" filter="url(#b2_2)"/>
<path transform="translate(96.8 258.2)" d="M-2 -1 L20 -1 C18.5 10 13.5 28 10.5 43 L-2 43 Z" fill="#4658c4" opacity="0.9" filter="url(#b0_9)"/>
</g>
<path transform="translate(96.8 258.2)" d="M-2 -1 L16 -1 C14.5 10 10.5 28 8.5 43 L-2 43 Z" fill="#3448b4" opacity="0.9" filter="url(#b1_4)"/>
</g>
<g clip-path="url(#c1)">
<ellipse cx="100.2" cy="264.7" rx="2" ry="3.8" fill="#a8c84a" opacity="0.9" filter="url(#b0_9)"/>
<ellipse cx="103.1" cy="285.2" rx="5.2" ry="10" fill="#3fa6d6" opacity="0.8" filter="url(#b1_0)"/>
<ellipse cx="103.4" cy="285.7" rx="4.3" ry="6" fill="#74c44c" opacity="1" filter="url(#b0_9)"/>
<ellipse cx="103.6" cy="285.5" rx="2.8" ry="3.6" fill="#ecd42c" opacity="1" filter="url(#b0_7)"/>
<ellipse cx="103.7" cy="285.3" rx="1.8" ry="2.1" fill="#ee7e1c" opacity="1" filter="url(#b0_6)"/>
<ellipse cx="103.8" cy="285.2" rx="0.9" ry="1" fill="#d42a10" opacity="1" filter="url(#b0_5)"/>
</g>
<g clip-path="url(#c2)"><g filter="url(#speck)">
<path transform="translate(155.2 258.5)" d="M-2 6 C9 4 22 7 24 15 C26 25 22 36 19 43 L-2 43 Z" fill="#8e9ce0" opacity="0.6" filter="url(#b2_2)"/>
<path transform="translate(155.2 258.5)" d="M-2 8 C8 6 19 9 21 16.5 C23 25 20 36 16.5 43 L-2 43 Z" fill="#4658c4" opacity="0.9" filter="url(#b0_9)"/>
</g>
<path transform="translate(155.2 258.5)" d="M-2 11 C6 9.5 14 12 16.5 18.5 C18.5 26 16 36 13 43 L-2 43 Z" fill="#3448b4" opacity="0.9" filter="url(#b1_4)"/>
</g>
<g clip-path="url(#c2)">
<ellipse cx="163" cy="287.1" rx="7.2" ry="7.6" fill="#3fa6d6" opacity="0.85" filter="url(#b1_0)" transform="rotate(-30 163 287.1)"/>
<ellipse cx="162.8" cy="287.1" rx="5.6" ry="4.8" fill="#74c44c" opacity="1" filter="url(#b0_9)" transform="rotate(-30 162.8 287.1)"/>
<ellipse cx="162.7" cy="287.1" rx="4" ry="2.8" fill="#ecd42c" opacity="1" filter="url(#b0_7)" transform="rotate(-30 162.7 287.1)"/>
<ellipse cx="162.5" cy="287.3" rx="2.6" ry="1.7" fill="#ee7e1c" opacity="1" filter="url(#b0_6)" transform="rotate(-30 162.5 287.3)"/>
<ellipse cx="162.2" cy="287.5" rx="1.1" ry="0.9" fill="#b04010" opacity="1" filter="url(#b0_5)"/>
</g>
<g clip-path="url(#c3)"><g filter="url(#speck)">
<ellipse cx="48.7" cy="343.5" rx="9.5" ry="5" fill="#8ea4dc" opacity="0.9" filter="url(#b1_0)" transform="rotate(-50 48.7 343.5)"/>
</g>
<ellipse cx="45.2" cy="344.5" rx="4.2" ry="5.6" fill="#80a8d4" opacity="0.7" filter="url(#b1_0)" transform="rotate(-15 45.2 344.5)"/>
<ellipse cx="44.8" cy="344.2" rx="2.8" ry="4.4" fill="#86c044" opacity="1" filter="url(#b0_8)" transform="rotate(-10 44.8 344.2)"/>
</g>
<g clip-path="url(#c4)"><g filter="url(#speck)">
<ellipse cx="106.8" cy="326.8" rx="8.2" ry="4.8" fill="#98acdc" opacity="0.9" filter="url(#b1_0)" transform="rotate(-20 106.8 326.8)"/>
<ellipse cx="107.3" cy="342.8" rx="8.8" ry="4.8" fill="#9aaac8" opacity="0.9" filter="url(#b1_0)" transform="rotate(-55 107.3 342.8)"/>
</g>
<ellipse cx="104.3" cy="327.2" rx="4.8" ry="3.4" fill="#8cb68a" opacity="0.8" filter="url(#b0_9)" transform="rotate(-10 104.3 327.2)"/>
<ellipse cx="103.8" cy="327.3" rx="3.6" ry="2.6" fill="#9cc040" opacity="1" filter="url(#b0_8)"/>
<ellipse cx="106.3" cy="343.3" rx="5" ry="2.6" fill="#8a9cbc" opacity="0.7" filter="url(#b1_0)" transform="rotate(-55 106.3 343.3)"/>
</g>
<g clip-path="url(#c5)"><g filter="url(#speck)">
<ellipse cx="165.2" cy="327.5" rx="6" ry="3.4" fill="#88a694" opacity="0.95" filter="url(#b0_9)"/>
<ellipse cx="167.2" cy="342.5" rx="8.8" ry="5" fill="#a0aee0" opacity="0.9" filter="url(#b1_0)" transform="rotate(-55 167.2 342.5)"/>
</g>
<ellipse cx="164.2" cy="344" rx="4" ry="5" fill="#8cacd0" opacity="0.7" filter="url(#b1_0)" transform="rotate(-20 164.2 344)"/>
<ellipse cx="163.8" cy="343.8" rx="2.8" ry="4" fill="#9ab83c" opacity="1" filter="url(#b0_8)" transform="rotate(-10 163.8 343.8)"/>
</g>
<path d="M56.7 267.1 H71.2 V258.5" fill="none" stroke="#c6c8d2" stroke-width="0.8"/>
<path d="M118.8 267.3 H129 V259.2" fill="none" stroke="#c6c8d2" stroke-width="0.8"/>
<path d="M175.2 268.1 H187.4 V259.5" fill="none" stroke="#c6c8d2" stroke-width="0.8"/>
<line x1="39.4" y1="332.9" x2="78.2" y2="332.9" stroke="#e6cdd0" stroke-width="1"/>
<line x1="98" y1="332.9" x2="136.8" y2="332.9" stroke="#e6cdd0" stroke-width="1"/>
<line x1="157.4" y1="332.9" x2="196.2" y2="332.9" stroke="#cfcfd2" stroke-width="1"/>
<text x="35.6" y="300.5" font-size="3.9" text-anchor="end" fill="#555" stroke="#555">10<tspan font-size="2.5" dy="-1.5">0</tspan></text>
<line x1="37" y1="299.1" x2="38.2" y2="299.1" stroke="#222" stroke-width="0.6"/>
<text x="35.6" y="290.1" font-size="3.9" text-anchor="end" fill="#555" stroke="#555">10<tspan font-size="2.5" dy="-1.5">1</tspan></text>
<line x1="37" y1="288.7" x2="38.2" y2="288.7" stroke="#222" stroke-width="0.6"/>
<text x="35.6" y="279.7" font-size="3.9" text-anchor="end" fill="#555" stroke="#555">10<tspan font-size="2.5" dy="-1.5">2</tspan></text>
<line x1="37" y1="278.3" x2="38.2" y2="278.3" stroke="#222" stroke-width="0.6"/>
<text x="35.6" y="269.3" font-size="3.9" text-anchor="end" fill="#555" stroke="#555">10<tspan font-size="2.5" dy="-1.5">3</tspan></text>
<line x1="37" y1="267.9" x2="38.2" y2="267.9" stroke="#222" stroke-width="0.6"/>
<text x="35.6" y="258.9" font-size="3.9" text-anchor="end" fill="#555" stroke="#555">10<tspan font-size="2.5" dy="-1.5">4</tspan></text>
<line x1="37" y1="257.5" x2="38.2" y2="257.5" stroke="#222" stroke-width="0.6"/>
<text x="38.5" y="305.7" font-size="3.9" text-anchor="middle" fill="#555" stroke="#555" style="stroke-width:0.1px">0</text>
<line x1="38.5" y1="299.1" x2="38.5" y2="300.4" stroke="#222" stroke-width="0.6"/>
<text x="51.25" y="305.7" font-size="3.9" text-anchor="middle" fill="#555" stroke="#555" style="stroke-width:0.1px">20K</text>
<line x1="51.25" y1="299.1" x2="51.25" y2="300.4" stroke="#222" stroke-width="0.6"/>
<text x="64" y="305.7" font-size="3.9" text-anchor="middle" fill="#555" stroke="#555" style="stroke-width:0.1px">40K</text>
<line x1="64" y1="299.1" x2="64" y2="300.4" stroke="#222" stroke-width="0.6"/>
<text x="76.75" y="305.7" font-size="3.9" text-anchor="middle" fill="#555" stroke="#555" style="stroke-width:0.1px">60K</text>
<line x1="76.75" y1="299.1" x2="76.75" y2="300.4" stroke="#222" stroke-width="0.6"/>
<line x1="38.2" y1="299.1" x2="38.2" y2="300" stroke="#222" stroke-width="0.5"/>
<line x1="41.39" y1="299.1" x2="41.39" y2="300" stroke="#222" stroke-width="0.5"/>
<line x1="44.57" y1="299.1" x2="44.57" y2="300" stroke="#222" stroke-width="0.5"/>
<line x1="47.76" y1="299.1" x2="47.76" y2="300" stroke="#222" stroke-width="0.5"/>
<line x1="50.95" y1="299.1" x2="50.95" y2="300" stroke="#222" stroke-width="0.5"/>
<line x1="54.14" y1="299.1" x2="54.14" y2="300" stroke="#222" stroke-width="0.5"/>
<line x1="57.32" y1="299.1" x2="57.32" y2="300" stroke="#222" stroke-width="0.5"/>
<line x1="60.51" y1="299.1" x2="60.51" y2="300" stroke="#222" stroke-width="0.5"/>
<line x1="63.7" y1="299.1" x2="63.7" y2="300" stroke="#222" stroke-width="0.5"/>
<line x1="66.89" y1="299.1" x2="66.89" y2="300" stroke="#222" stroke-width="0.5"/>
<line x1="70.07" y1="299.1" x2="70.07" y2="300" stroke="#222" stroke-width="0.5"/>
<line x1="73.26" y1="299.1" x2="73.26" y2="300" stroke="#222" stroke-width="0.5"/>
<line x1="76.45" y1="299.1" x2="76.45" y2="300" stroke="#222" stroke-width="0.5"/>
<rect x="38.2" y="257.5" width="41.8" height="41.6" fill="none" stroke="#111" stroke-width="1"/>
<text x="94.2" y="301.2" font-size="3.9" text-anchor="end" fill="#555" stroke="#555">10<tspan font-size="2.5" dy="-1.5">0</tspan></text>
<line x1="95.6" y1="299.8" x2="96.8" y2="299.8" stroke="#222" stroke-width="0.6"/>
<text x="94.2" y="290.8" font-size="3.9" text-anchor="end" fill="#555" stroke="#555">10<tspan font-size="2.5" dy="-1.5">1</tspan></text>
<line x1="95.6" y1="289.4" x2="96.8" y2="289.4" stroke="#222" stroke-width="0.6"/>
<text x="94.2" y="280.4" font-size="3.9" text-anchor="end" fill="#555" stroke="#555">10<tspan font-size="2.5" dy="-1.5">2</tspan></text>
<line x1="95.6" y1="279" x2="96.8" y2="279" stroke="#222" stroke-width="0.6"/>
<text x="94.2" y="270" font-size="3.9" text-anchor="end" fill="#555" stroke="#555">10<tspan font-size="2.5" dy="-1.5">3</tspan></text>
<line x1="95.6" y1="268.6" x2="96.8" y2="268.6" stroke="#222" stroke-width="0.6"/>
<text x="94.2" y="259.6" font-size="3.9" text-anchor="end" fill="#555" stroke="#555">10<tspan font-size="2.5" dy="-1.5">4</tspan></text>
<line x1="95.6" y1="258.2" x2="96.8" y2="258.2" stroke="#222" stroke-width="0.6"/>
<text x="97.1" y="306.4" font-size="3.9" text-anchor="middle" fill="#555" stroke="#555" style="stroke-width:0.1px">0</text>
<line x1="97.1" y1="299.8" x2="97.1" y2="301.1" stroke="#222" stroke-width="0.6"/>
<text x="109.85" y="306.4" font-size="3.9" text-anchor="middle" fill="#555" stroke="#555" style="stroke-width:0.1px">20K</text>
<line x1="109.85" y1="299.8" x2="109.85" y2="301.1" stroke="#222" stroke-width="0.6"/>
<text x="122.6" y="306.4" font-size="3.9" text-anchor="middle" fill="#555" stroke="#555" style="stroke-width:0.1px">40K</text>
<line x1="122.6" y1="299.8" x2="122.6" y2="301.1" stroke="#222" stroke-width="0.6"/>
<text x="135.35" y="306.4" font-size="3.9" text-anchor="middle" fill="#555" stroke="#555" style="stroke-width:0.1px">60K</text>
<line x1="135.35" y1="299.8" x2="135.35" y2="301.1" stroke="#222" stroke-width="0.6"/>
<line x1="96.8" y1="299.8" x2="96.8" y2="300.7" stroke="#222" stroke-width="0.5"/>
<line x1="99.99" y1="299.8" x2="99.99" y2="300.7" stroke="#222" stroke-width="0.5"/>
<line x1="103.17" y1="299.8" x2="103.17" y2="300.7" stroke="#222" stroke-width="0.5"/>
<line x1="106.36" y1="299.8" x2="106.36" y2="300.7" stroke="#222" stroke-width="0.5"/>
<line x1="109.55" y1="299.8" x2="109.55" y2="300.7" stroke="#222" stroke-width="0.5"/>
<line x1="112.74" y1="299.8" x2="112.74" y2="300.7" stroke="#222" stroke-width="0.5"/>
<line x1="115.92" y1="299.8" x2="115.92" y2="300.7" stroke="#222" stroke-width="0.5"/>
<line x1="119.11" y1="299.8" x2="119.11" y2="300.7" stroke="#222" stroke-width="0.5"/>
<line x1="122.3" y1="299.8" x2="122.3" y2="300.7" stroke="#222" stroke-width="0.5"/>
<line x1="125.49" y1="299.8" x2="125.49" y2="300.7" stroke="#222" stroke-width="0.5"/>
<line x1="128.67" y1="299.8" x2="128.67" y2="300.7" stroke="#222" stroke-width="0.5"/>
<line x1="131.86" y1="299.8" x2="131.86" y2="300.7" stroke="#222" stroke-width="0.5"/>
<line x1="135.05" y1="299.8" x2="135.05" y2="300.7" stroke="#222" stroke-width="0.5"/>
<rect x="96.8" y="258.2" width="41.8" height="41.6" fill="none" stroke="#111" stroke-width="1"/>
<text x="152.6" y="301.5" font-size="3.9" text-anchor="end" fill="#555" stroke="#555">10<tspan font-size="2.5" dy="-1.5">0</tspan></text>
<line x1="154" y1="300.1" x2="155.2" y2="300.1" stroke="#222" stroke-width="0.6"/>
<text x="152.6" y="291.1" font-size="3.9" text-anchor="end" fill="#555" stroke="#555">10<tspan font-size="2.5" dy="-1.5">1</tspan></text>
<line x1="154" y1="289.7" x2="155.2" y2="289.7" stroke="#222" stroke-width="0.6"/>
<text x="152.6" y="280.7" font-size="3.9" text-anchor="end" fill="#555" stroke="#555">10<tspan font-size="2.5" dy="-1.5">2</tspan></text>
<line x1="154" y1="279.3" x2="155.2" y2="279.3" stroke="#222" stroke-width="0.6"/>
<text x="152.6" y="270.3" font-size="3.9" text-anchor="end" fill="#555" stroke="#555">10<tspan font-size="2.5" dy="-1.5">3</tspan></text>
<line x1="154" y1="268.9" x2="155.2" y2="268.9" stroke="#222" stroke-width="0.6"/>
<text x="152.6" y="259.9" font-size="3.9" text-anchor="end" fill="#555" stroke="#555">10<tspan font-size="2.5" dy="-1.5">4</tspan></text>
<line x1="154" y1="258.5" x2="155.2" y2="258.5" stroke="#222" stroke-width="0.6"/>
<text x="155.5" y="306.7" font-size="3.9" text-anchor="middle" fill="#555" stroke="#555" style="stroke-width:0.1px">0</text>
<line x1="155.5" y1="300.1" x2="155.5" y2="301.4" stroke="#222" stroke-width="0.6"/>
<text x="168.25" y="306.7" font-size="3.9" text-anchor="middle" fill="#555" stroke="#555" style="stroke-width:0.1px">20K</text>
<line x1="168.25" y1="300.1" x2="168.25" y2="301.4" stroke="#222" stroke-width="0.6"/>
<text x="181" y="306.7" font-size="3.9" text-anchor="middle" fill="#555" stroke="#555" style="stroke-width:0.1px">40K</text>
<line x1="181" y1="300.1" x2="181" y2="301.4" stroke="#222" stroke-width="0.6"/>
<text x="193.75" y="306.7" font-size="3.9" text-anchor="middle" fill="#555" stroke="#555" style="stroke-width:0.1px">60K</text>
<line x1="193.75" y1="300.1" x2="193.75" y2="301.4" stroke="#222" stroke-width="0.6"/>
<line x1="155.2" y1="300.1" x2="155.2" y2="301" stroke="#222" stroke-width="0.5"/>
<line x1="158.39" y1="300.1" x2="158.39" y2="301" stroke="#222" stroke-width="0.5"/>
<line x1="161.57" y1="300.1" x2="161.57" y2="301" stroke="#222" stroke-width="0.5"/>
<line x1="164.76" y1="300.1" x2="164.76" y2="301" stroke="#222" stroke-width="0.5"/>
<line x1="167.95" y1="300.1" x2="167.95" y2="301" stroke="#222" stroke-width="0.5"/>
<line x1="171.14" y1="300.1" x2="171.14" y2="301" stroke="#222" stroke-width="0.5"/>
<line x1="174.32" y1="300.1" x2="174.32" y2="301" stroke="#222" stroke-width="0.5"/>
<line x1="177.51" y1="300.1" x2="177.51" y2="301" stroke="#222" stroke-width="0.5"/>
<line x1="180.7" y1="300.1" x2="180.7" y2="301" stroke="#222" stroke-width="0.5"/>
<line x1="183.89" y1="300.1" x2="183.89" y2="301" stroke="#222" stroke-width="0.5"/>
<line x1="187.07" y1="300.1" x2="187.07" y2="301" stroke="#222" stroke-width="0.5"/>
<line x1="190.26" y1="300.1" x2="190.26" y2="301" stroke="#222" stroke-width="0.5"/>
<line x1="193.45" y1="300.1" x2="193.45" y2="301" stroke="#222" stroke-width="0.5"/>
<rect x="155.2" y="258.5" width="41.8" height="41.6" fill="none" stroke="#111" stroke-width="1"/>
<text x="35.6" y="359" font-size="3.9" text-anchor="end" fill="#555" stroke="#555">10<tspan font-size="2.5" dy="-1.5">0</tspan></text>
<line x1="37" y1="357.6" x2="38.2" y2="357.6" stroke="#222" stroke-width="0.6"/>
<text x="35.6" y="348.6" font-size="3.9" text-anchor="end" fill="#555" stroke="#555">10<tspan font-size="2.5" dy="-1.5">1</tspan></text>
<line x1="37" y1="347.2" x2="38.2" y2="347.2" stroke="#222" stroke-width="0.6"/>
<text x="35.6" y="338.2" font-size="3.9" text-anchor="end" fill="#555" stroke="#555">10<tspan font-size="2.5" dy="-1.5">2</tspan></text>
<line x1="37" y1="336.8" x2="38.2" y2="336.8" stroke="#222" stroke-width="0.6"/>
<text x="35.6" y="327.8" font-size="3.9" text-anchor="end" fill="#555" stroke="#555">10<tspan font-size="2.5" dy="-1.5">3</tspan></text>
<line x1="37" y1="326.4" x2="38.2" y2="326.4" stroke="#222" stroke-width="0.6"/>
<text x="35.6" y="317.4" font-size="3.9" text-anchor="end" fill="#555" stroke="#555">10<tspan font-size="2.5" dy="-1.5">4</tspan></text>
<line x1="37" y1="316" x2="38.2" y2="316" stroke="#222" stroke-width="0.6"/>
<text x="38.5" y="364.2" font-size="3.9" text-anchor="middle" fill="#555" stroke="#555" style="stroke-width:0.1px">0</text>
<line x1="38.5" y1="357.6" x2="38.5" y2="358.9" stroke="#222" stroke-width="0.6"/>
<text x="51.25" y="364.2" font-size="3.9" text-anchor="middle" fill="#555" stroke="#555" style="stroke-width:0.1px">20K</text>
<line x1="51.25" y1="357.6" x2="51.25" y2="358.9" stroke="#222" stroke-width="0.6"/>
<text x="64" y="364.2" font-size="3.9" text-anchor="middle" fill="#555" stroke="#555" style="stroke-width:0.1px">40K</text>
<line x1="64" y1="357.6" x2="64" y2="358.9" stroke="#222" stroke-width="0.6"/>
<text x="76.75" y="364.2" font-size="3.9" text-anchor="middle" fill="#555" stroke="#555" style="stroke-width:0.1px">60K</text>
<line x1="76.75" y1="357.6" x2="76.75" y2="358.9" stroke="#222" stroke-width="0.6"/>
<line x1="38.2" y1="357.6" x2="38.2" y2="358.5" stroke="#222" stroke-width="0.5"/>
<line x1="41.39" y1="357.6" x2="41.39" y2="358.5" stroke="#222" stroke-width="0.5"/>
<line x1="44.57" y1="357.6" x2="44.57" y2="358.5" stroke="#222" stroke-width="0.5"/>
<line x1="47.76" y1="357.6" x2="47.76" y2="358.5" stroke="#222" stroke-width="0.5"/>
<line x1="50.95" y1="357.6" x2="50.95" y2="358.5" stroke="#222" stroke-width="0.5"/>
<line x1="54.14" y1="357.6" x2="54.14" y2="358.5" stroke="#222" stroke-width="0.5"/>
<line x1="57.32" y1="357.6" x2="57.32" y2="358.5" stroke="#222" stroke-width="0.5"/>
<line x1="60.51" y1="357.6" x2="60.51" y2="358.5" stroke="#222" stroke-width="0.5"/>
<line x1="63.7" y1="357.6" x2="63.7" y2="358.5" stroke="#222" stroke-width="0.5"/>
<line x1="66.89" y1="357.6" x2="66.89" y2="358.5" stroke="#222" stroke-width="0.5"/>
<line x1="70.07" y1="357.6" x2="70.07" y2="358.5" stroke="#222" stroke-width="0.5"/>
<line x1="73.26" y1="357.6" x2="73.26" y2="358.5" stroke="#222" stroke-width="0.5"/>
<line x1="76.45" y1="357.6" x2="76.45" y2="358.5" stroke="#222" stroke-width="0.5"/>
<rect x="38.2" y="316" width="41.8" height="41.6" fill="none" stroke="#111" stroke-width="1"/>
<text x="94.2" y="358.8" font-size="3.9" text-anchor="end" fill="#555" stroke="#555">10<tspan font-size="2.5" dy="-1.5">0</tspan></text>
<line x1="95.6" y1="357.4" x2="96.8" y2="357.4" stroke="#222" stroke-width="0.6"/>
<text x="94.2" y="348.4" font-size="3.9" text-anchor="end" fill="#555" stroke="#555">10<tspan font-size="2.5" dy="-1.5">1</tspan></text>
<line x1="95.6" y1="347" x2="96.8" y2="347" stroke="#222" stroke-width="0.6"/>
<text x="94.2" y="338" font-size="3.9" text-anchor="end" fill="#555" stroke="#555">10<tspan font-size="2.5" dy="-1.5">2</tspan></text>
<line x1="95.6" y1="336.6" x2="96.8" y2="336.6" stroke="#222" stroke-width="0.6"/>
<text x="94.2" y="327.6" font-size="3.9" text-anchor="end" fill="#555" stroke="#555">10<tspan font-size="2.5" dy="-1.5">3</tspan></text>
<line x1="95.6" y1="326.2" x2="96.8" y2="326.2" stroke="#222" stroke-width="0.6"/>
<text x="94.2" y="317.2" font-size="3.9" text-anchor="end" fill="#555" stroke="#555">10<tspan font-size="2.5" dy="-1.5">4</tspan></text>
<line x1="95.6" y1="315.8" x2="96.8" y2="315.8" stroke="#222" stroke-width="0.6"/>
<text x="97.1" y="364" font-size="3.9" text-anchor="middle" fill="#555" stroke="#555" style="stroke-width:0.1px">0</text>
<line x1="97.1" y1="357.4" x2="97.1" y2="358.7" stroke="#222" stroke-width="0.6"/>
<text x="109.85" y="364" font-size="3.9" text-anchor="middle" fill="#555" stroke="#555" style="stroke-width:0.1px">20K</text>
<line x1="109.85" y1="357.4" x2="109.85" y2="358.7" stroke="#222" stroke-width="0.6"/>
<text x="122.6" y="364" font-size="3.9" text-anchor="middle" fill="#555" stroke="#555" style="stroke-width:0.1px">40K</text>
<line x1="122.6" y1="357.4" x2="122.6" y2="358.7" stroke="#222" stroke-width="0.6"/>
<text x="135.35" y="364" font-size="3.9" text-anchor="middle" fill="#555" stroke="#555" style="stroke-width:0.1px">60K</text>
<line x1="135.35" y1="357.4" x2="135.35" y2="358.7" stroke="#222" stroke-width="0.6"/>
<line x1="96.8" y1="357.4" x2="96.8" y2="358.3" stroke="#222" stroke-width="0.5"/>
<line x1="99.99" y1="357.4" x2="99.99" y2="358.3" stroke="#222" stroke-width="0.5"/>
<line x1="103.17" y1="357.4" x2="103.17" y2="358.3" stroke="#222" stroke-width="0.5"/>
<line x1="106.36" y1="357.4" x2="106.36" y2="358.3" stroke="#222" stroke-width="0.5"/>
<line x1="109.55" y1="357.4" x2="109.55" y2="358.3" stroke="#222" stroke-width="0.5"/>
<line x1="112.74" y1="357.4" x2="112.74" y2="358.3" stroke="#222" stroke-width="0.5"/>
<line x1="115.92" y1="357.4" x2="115.92" y2="358.3" stroke="#222" stroke-width="0.5"/>
<line x1="119.11" y1="357.4" x2="119.11" y2="358.3" stroke="#222" stroke-width="0.5"/>
<line x1="122.3" y1="357.4" x2="122.3" y2="358.3" stroke="#222" stroke-width="0.5"/>
<line x1="125.49" y1="357.4" x2="125.49" y2="358.3" stroke="#222" stroke-width="0.5"/>
<line x1="128.67" y1="357.4" x2="128.67" y2="358.3" stroke="#222" stroke-width="0.5"/>
<line x1="131.86" y1="357.4" x2="131.86" y2="358.3" stroke="#222" stroke-width="0.5"/>
<line x1="135.05" y1="357.4" x2="135.05" y2="358.3" stroke="#222" stroke-width="0.5"/>
<rect x="96.8" y="315.8" width="41.8" height="41.6" fill="none" stroke="#111" stroke-width="1"/>
<text x="153.6" y="359" font-size="3.9" text-anchor="end" fill="#555" stroke="#555">10<tspan font-size="2.5" dy="-1.5">0</tspan></text>
<line x1="155" y1="357.6" x2="156.2" y2="357.6" stroke="#222" stroke-width="0.6"/>
<text x="153.6" y="348.6" font-size="3.9" text-anchor="end" fill="#555" stroke="#555">10<tspan font-size="2.5" dy="-1.5">1</tspan></text>
<line x1="155" y1="347.2" x2="156.2" y2="347.2" stroke="#222" stroke-width="0.6"/>
<text x="153.6" y="338.2" font-size="3.9" text-anchor="end" fill="#555" stroke="#555">10<tspan font-size="2.5" dy="-1.5">2</tspan></text>
<line x1="155" y1="336.8" x2="156.2" y2="336.8" stroke="#222" stroke-width="0.6"/>
<text x="153.6" y="327.8" font-size="3.9" text-anchor="end" fill="#555" stroke="#555">10<tspan font-size="2.5" dy="-1.5">3</tspan></text>
<line x1="155" y1="326.4" x2="156.2" y2="326.4" stroke="#222" stroke-width="0.6"/>
<text x="153.6" y="317.4" font-size="3.9" text-anchor="end" fill="#555" stroke="#555">10<tspan font-size="2.5" dy="-1.5">4</tspan></text>
<line x1="155" y1="316" x2="156.2" y2="316" stroke="#222" stroke-width="0.6"/>
<text x="156.5" y="364.2" font-size="3.9" text-anchor="middle" fill="#555" stroke="#555" style="stroke-width:0.1px">0</text>
<line x1="156.5" y1="357.6" x2="156.5" y2="358.9" stroke="#222" stroke-width="0.6"/>
<text x="169.25" y="364.2" font-size="3.9" text-anchor="middle" fill="#555" stroke="#555" style="stroke-width:0.1px">20K</text>
<line x1="169.25" y1="357.6" x2="169.25" y2="358.9" stroke="#222" stroke-width="0.6"/>
<text x="182" y="364.2" font-size="3.9" text-anchor="middle" fill="#555" stroke="#555" style="stroke-width:0.1px">40K</text>
<line x1="182" y1="357.6" x2="182" y2="358.9" stroke="#222" stroke-width="0.6"/>
<text x="194.75" y="364.2" font-size="3.9" text-anchor="middle" fill="#555" stroke="#555" style="stroke-width:0.1px">60K</text>
<line x1="194.75" y1="357.6" x2="194.75" y2="358.9" stroke="#222" stroke-width="0.6"/>
<line x1="156.2" y1="357.6" x2="156.2" y2="358.5" stroke="#222" stroke-width="0.5"/>
<line x1="159.39" y1="357.6" x2="159.39" y2="358.5" stroke="#222" stroke-width="0.5"/>
<line x1="162.57" y1="357.6" x2="162.57" y2="358.5" stroke="#222" stroke-width="0.5"/>
<line x1="165.76" y1="357.6" x2="165.76" y2="358.5" stroke="#222" stroke-width="0.5"/>
<line x1="168.95" y1="357.6" x2="168.95" y2="358.5" stroke="#222" stroke-width="0.5"/>
<line x1="172.14" y1="357.6" x2="172.14" y2="358.5" stroke="#222" stroke-width="0.5"/>
<line x1="175.32" y1="357.6" x2="175.32" y2="358.5" stroke="#222" stroke-width="0.5"/>
<line x1="178.51" y1="357.6" x2="178.51" y2="358.5" stroke="#222" stroke-width="0.5"/>
<line x1="181.7" y1="357.6" x2="181.7" y2="358.5" stroke="#222" stroke-width="0.5"/>
<line x1="184.89" y1="357.6" x2="184.89" y2="358.5" stroke="#222" stroke-width="0.5"/>
<line x1="188.07" y1="357.6" x2="188.07" y2="358.5" stroke="#222" stroke-width="0.5"/>
<line x1="191.26" y1="357.6" x2="191.26" y2="358.5" stroke="#222" stroke-width="0.5"/>
<line x1="194.45" y1="357.6" x2="194.45" y2="358.5" stroke="#222" stroke-width="0.5"/>
<rect x="156.2" y="316" width="41.8" height="41.6" fill="none" stroke="#111" stroke-width="1"/>
<text x="25.8" y="278" font-size="5.8" text-anchor="middle" fill="#111" stroke="#111" style="stroke-width:0.05px" transform="rotate(-90 25.8 278)">BM</text>
<text x="25.9" y="336.6" font-size="5.8" text-anchor="middle" fill="#111" stroke="#111" style="stroke-width:0.22px" transform="rotate(-90 25.9 336.6)">Spleen</text>
<text x="25.2" y="359.6" font-size="5.9" text-anchor="middle" fill="#111" stroke="#111" style="stroke-width:0.22px" transform="rotate(-90 25.2 359.6)">CD71</text>
<path d="M27.1 367.6 V350.2" fill="none" stroke="#111" stroke-width="0.9"/>
<path d="M27.1 367.6 H44.5" fill="none" stroke="#111" stroke-width="0.9"/>
<path d="M25.7 351.2 L27.1 348.4 L28.5 351.2 Z" fill="#111"/>
<path d="M43.6 366.2 L46.4 367.6 L43.6 369.0 Z" fill="#111"/>
<text x="35" y="374.8" font-size="6.1" text-anchor="middle" fill="#111" stroke="#111" style="stroke-width:0.1px">ss lin</text>
<path d="M219.5 300.7 L220.05 300.7 L220.61 300.7 L221.16 300.7 L221.72 300.7 L222.27 300.7 L222.82 300.7 L223.38 300.7 L223.93 300.7 L224.48 300.7 L225.04 300.7 L225.59 300.7 L226.15 300.7 L226.7 300.7 L227.25 300.7 L227.81 300.7 L228.36 300.7 L228.91 300.7 L229.47 300.7 L230.02 300.7 L230.57 300.7 L231.13 300.7 L231.68 300.7 L232.24 300.7 L232.79 300.7 L233.34 300.7 L233.9 300.7 L234.45 300.7 L235 300.7 L235.56 300.7 L236.11 300.7 L236.67 300.7 L237.22 300.7 L237.77 300.7 L238.33 300.7 L238.88 300.7 L239.44 300.7 L239.99 300.7 L240.54 300.7 L241.1 300.7 L241.65 300.7 L242.2 300.7 L242.76 300.7 L243.31 300.69 L243.87 300.69 L244.42 300.67 L244.97 300.65 L245.53 300.6 L246.08 300.51 L246.63 300.37 L247.19 300.12 L247.74 299.73 L248.3 299.12 L248.85 298.22 L249.4 296.93 L249.96 295.18 L250.51 292.88 L251.06 289.98 L251.62 286.51 L252.17 282.55 L252.73 278.25 L253.28 273.87 L253.83 269.71 L254.39 266.1 L254.94 263.36 L255.49 261.76 L256.05 261.46 L256.6 262.8 L257.16 265.72 L257.71 269.85 L258.26 274.69 L258.82 279.75 L259.37 284.57 L259.92 288.83 L260.48 292.36 L261.03 295.09 L261.59 297.1 L262.14 298.49 L262.69 299.4 L263.25 299.97 L263.8 300.31" fill="none" stroke="#c4467a" stroke-width="1.1"/>
<path d="M219.5 300.7 L220.05 300.7 L220.61 300.7 L221.16 300.7 L221.72 300.7 L222.27 300.7 L222.82 300.7 L223.38 300.7 L223.93 300.7 L224.48 300.7 L225.04 300.7 L225.59 300.7 L226.15 300.7 L226.7 300.7 L227.25 300.7 L227.81 300.7 L228.36 300.7 L228.91 300.7 L229.47 300.7 L230.02 300.7 L230.57 300.7 L231.13 300.7 L231.68 300.7 L232.24 300.7 L232.79 300.7 L233.34 300.7 L233.9 300.7 L234.45 300.7 L235 300.7 L235.56 300.7 L236.11 300.7 L236.67 300.7 L237.22 300.7 L237.77 300.7 L238.33 300.7 L238.88 300.7 L239.44 300.7 L239.99 300.7 L240.54 300.69 L241.1 300.68 L241.65 300.66 L242.2 300.61 L242.76 300.52 L243.31 300.35 L243.87 300.05 L244.42 299.56 L244.97 298.78 L245.53 297.59 L246.08 295.86 L246.63 293.5 L247.19 290.41 L247.74 286.62 L248.3 282.22 L248.85 277.43 L249.4 272.62 L249.96 268.21 L250.51 264.66 L251.06 262.36 L251.62 261.6 L252.17 262.79 L252.73 266.01 L253.28 270.74 L253.83 276.29 L254.39 281.93 L254.94 287.08 L255.49 291.37 L256.05 294.67 L256.6 297.02 L257.16 298.58 L257.71 299.55 L258.26 300.11 L258.82 300.42 L259.37 300.57 L259.92 300.64 L260.48 300.68 L261.03 300.69 L261.59 300.7 L262.14 300.7 L262.69 300.7 L263.25 300.7 L263.8 300.7" fill="none" stroke="#3a5ab0" stroke-width="1.0"/>
<path d="M219.5 300.7 L220.05 300.7 L220.61 300.7 L221.16 300.7 L221.72 300.7 L222.27 300.7 L222.82 300.7 L223.38 300.7 L223.93 300.7 L224.48 300.7 L225.04 300.7 L225.59 300.7 L226.15 300.7 L226.7 300.7 L227.25 300.7 L227.81 300.7 L228.36 300.7 L228.91 300.7 L229.47 300.7 L230.02 300.7 L230.57 300.7 L231.13 300.7 L231.68 300.7 L232.24 300.7 L232.79 300.7 L233.34 300.7 L233.9 300.7 L234.45 300.7 L235 300.7 L235.56 300.7 L236.11 300.7 L236.67 300.7 L237.22 300.7 L237.77 300.7 L238.33 300.7 L238.88 300.7 L239.44 300.7 L239.99 300.7 L240.54 300.7 L241.1 300.69 L241.65 300.69 L242.2 300.67 L242.76 300.63 L243.31 300.56 L243.87 300.43 L244.42 300.2 L244.97 299.8 L245.53 299.15 L246.08 298.15 L246.63 296.66 L247.19 294.57 L247.74 291.79 L248.3 288.26 L248.85 284.07 L249.4 279.37 L249.96 274.48 L250.51 269.78 L251.06 265.75 L251.62 262.82 L252.17 261.34 L252.73 261.59 L253.28 263.98 L253.83 268.16 L254.39 273.49 L254.94 279.23 L255.49 284.72 L256.05 289.47 L256.6 293.25 L257.16 296.04 L257.71 297.95 L258.26 299.17 L258.82 299.89 L259.37 300.3 L259.92 300.51 L260.48 300.62 L261.03 300.67 L261.59 300.69 L262.14 300.69 L262.69 300.7 L263.25 300.7 L263.8 300.7" fill="none" stroke="#111" stroke-width="1.0"/>
<text x="216.8" y="302.2" font-size="3.8" text-anchor="end" fill="#555" stroke="#555" style="stroke-width:0.1px">0</text>
<line x1="217.6" y1="300.9" x2="219" y2="300.9" stroke="#222" stroke-width="0.6"/>
<text x="216.8" y="294" font-size="3.8" text-anchor="end" fill="#555" stroke="#555" style="stroke-width:0.1px">20</text>
<line x1="217.6" y1="292.7" x2="219" y2="292.7" stroke="#222" stroke-width="0.6"/>
<text x="216.8" y="285.8" font-size="3.8" text-anchor="end" fill="#555" stroke="#555" style="stroke-width:0.1px">40</text>
<line x1="217.6" y1="284.5" x2="219" y2="284.5" stroke="#222" stroke-width="0.6"/>
<text x="216.8" y="277.6" font-size="3.8" text-anchor="end" fill="#555" stroke="#555" style="stroke-width:0.1px">60</text>
<line x1="217.6" y1="276.3" x2="219" y2="276.3" stroke="#222" stroke-width="0.6"/>
<text x="216.8" y="269.4" font-size="3.8" text-anchor="end" fill="#555" stroke="#555" style="stroke-width:0.1px">80</text>
<line x1="217.6" y1="268.1" x2="219" y2="268.1" stroke="#222" stroke-width="0.6"/>
<text x="216.8" y="261.2" font-size="3.8" text-anchor="end" fill="#555" stroke="#555" style="stroke-width:0.1px">100</text>
<line x1="217.6" y1="259.9" x2="219" y2="259.9" stroke="#222" stroke-width="0.6"/>
<text x="220.6" y="307.7" font-size="3.8" text-anchor="middle" fill="#666" stroke="#666">10<tspan font-size="2.5" dy="-1.5">0</tspan></text>
<line x1="220.6" y1="301.5" x2="220.6" y2="302.7" stroke="#222" stroke-width="0.6"/>
<text x="231.17" y="307.7" font-size="3.8" text-anchor="middle" fill="#666" stroke="#666">10<tspan font-size="2.5" dy="-1.5">1</tspan></text>
<line x1="231.17" y1="301.5" x2="231.17" y2="302.7" stroke="#222" stroke-width="0.6"/>
<text x="241.75" y="307.7" font-size="3.8" text-anchor="middle" fill="#666" stroke="#666">10<tspan font-size="2.5" dy="-1.5">2</tspan></text>
<line x1="241.75" y1="301.5" x2="241.75" y2="302.7" stroke="#222" stroke-width="0.6"/>
<text x="252.32" y="307.7" font-size="3.8" text-anchor="middle" fill="#666" stroke="#666">10<tspan font-size="2.5" dy="-1.5">3</tspan></text>
<line x1="252.32" y1="301.5" x2="252.32" y2="302.7" stroke="#222" stroke-width="0.6"/>
<text x="262.9" y="307.7" font-size="3.8" text-anchor="middle" fill="#666" stroke="#666">10<tspan font-size="2.5" dy="-1.5">4</tspan></text>
<line x1="262.9" y1="301.5" x2="262.9" y2="302.7" stroke="#222" stroke-width="0.6"/>
<rect x="219" y="258.5" width="45.3" height="43" fill="none" stroke="#111" stroke-width="1"/>
<path d="M219.3 356.5 L219.84 356.5 L220.38 356.5 L220.92 356.5 L221.46 356.5 L222 356.5 L222.54 356.5 L223.08 356.5 L223.62 356.5 L224.16 356.5 L224.7 356.5 L225.24 356.5 L225.78 356.5 L226.32 356.5 L226.86 356.5 L227.4 356.5 L227.94 356.5 L228.48 356.5 L229.02 356.5 L229.56 356.5 L230.1 356.5 L230.64 356.5 L231.18 356.5 L231.72 356.5 L232.26 356.5 L232.8 356.5 L233.34 356.5 L233.88 356.5 L234.42 356.5 L234.96 356.5 L235.5 356.5 L236.04 356.5 L236.58 356.5 L237.12 356.5 L237.66 356.5 L238.2 356.5 L238.74 356.5 L239.28 356.5 L239.82 356.5 L240.36 356.5 L240.9 356.5 L241.44 356.5 L241.98 356.5 L242.52 356.5 L243.06 356.5 L243.6 356.49 L244.14 356.48 L244.68 356.46 L245.22 356.42 L245.76 356.33 L246.3 356.15 L246.84 355.84 L247.38 355.3 L247.92 354.43 L248.46 353.08 L249 351.1 L249.54 348.37 L250.08 344.83 L250.62 340.5 L251.16 335.57 L251.7 330.37 L252.24 325.36 L252.78 321.08 L253.32 318.05 L253.86 316.66 L254.4 317.15 L254.94 319.55 L255.48 323.51 L256.02 328.5 L256.56 333.91 L257.1 339.17 L257.64 343.87 L258.18 347.74 L258.72 350.73 L259.26 352.89 L259.8 354.35 L260.34 355.28 L260.88 355.84 L261.42 356.16 L261.96 356.34 L262.5 356.42" fill="none" stroke="#c4467a" stroke-width="1.4"/>
<path d="M219.3 356.5 L219.84 356.5 L220.38 356.5 L220.92 356.5 L221.46 356.5 L222 356.5 L222.54 356.5 L223.08 356.5 L223.62 356.5 L224.16 356.5 L224.7 356.5 L225.24 356.5 L225.78 356.5 L226.32 356.5 L226.86 356.5 L227.4 356.5 L227.94 356.5 L228.48 356.5 L229.02 356.5 L229.56 356.5 L230.1 356.5 L230.64 356.5 L231.18 356.5 L231.72 356.5 L232.26 356.5 L232.8 356.5 L233.34 356.5 L233.88 356.5 L234.42 356.5 L234.96 356.5 L235.5 356.5 L236.04 356.5 L236.58 356.5 L237.12 356.5 L237.66 356.5 L238.2 356.5 L238.74 356.5 L239.28 356.5 L239.82 356.5 L240.36 356.5 L240.9 356.5 L241.44 356.5 L241.98 356.5 L242.52 356.5 L243.06 356.5 L243.6 356.5 L244.14 356.49 L244.68 356.48 L245.22 356.45 L245.76 356.38 L246.3 356.24 L246.84 355.97 L247.38 355.48 L247.92 354.62 L248.46 353.23 L249 351.13 L249.54 348.14 L250.08 344.19 L250.62 339.35 L251.16 333.88 L251.7 328.28 L252.24 323.17 L252.78 319.24 L253.32 317.09 L253.86 317.05 L254.4 319.13 L254.94 323 L255.48 328.07 L256.02 333.68 L256.56 339.16 L257.1 344.03 L257.64 348.01 L258.18 351.03 L258.72 353.17 L259.26 354.58 L259.8 355.45 L260.34 355.96 L260.88 356.23 L261.42 356.38 L261.96 356.45 L262.5 356.48" fill="none" stroke="#3a5ab0" stroke-width="1.0"/>
<path d="M219.3 356.5 L219.84 356.5 L220.38 356.5 L220.92 356.5 L221.46 356.5 L222 356.5 L222.54 356.5 L223.08 356.5 L223.62 356.5 L224.16 356.5 L224.7 356.5 L225.24 356.5 L225.78 356.5 L226.32 356.5 L226.86 356.5 L227.4 356.5 L227.94 356.5 L228.48 356.5 L229.02 356.5 L229.56 356.5 L230.1 356.5 L230.64 356.5 L231.18 356.5 L231.72 356.5 L232.26 356.5 L232.8 356.5 L233.34 356.5 L233.88 356.5 L234.42 356.5 L234.96 356.5 L235.5 356.5 L236.04 356.5 L236.58 356.5 L237.12 356.5 L237.66 356.5 L238.2 356.5 L238.74 356.5 L239.28 356.5 L239.82 356.5 L240.36 356.5 L240.9 356.5 L241.44 356.5 L241.98 356.5 L242.52 356.5 L243.06 356.5 L243.6 356.5 L244.14 356.5 L244.68 356.49 L245.22 356.48 L245.76 356.45 L246.3 356.38 L246.84 356.23 L247.38 355.94 L247.92 355.38 L248.46 354.4 L249 352.81 L249.54 350.38 L250.08 346.95 L250.62 342.46 L251.16 337.08 L251.7 331.2 L252.24 325.47 L252.78 320.67 L253.32 317.54 L253.86 316.61 L254.4 317.93 L254.94 321.21 L255.48 325.94 L256.02 331.46 L256.56 337.08 L257.1 342.25 L257.64 346.6 L258.18 349.99 L258.72 352.45 L259.26 354.12 L259.8 355.17 L260.34 355.8 L260.88 356.15 L261.42 356.33 L261.96 356.43 L262.5 356.47" fill="none" stroke="#111" stroke-width="1.0"/>
<text x="216.6" y="358" font-size="3.8" text-anchor="end" fill="#555" stroke="#555" style="stroke-width:0.1px">0</text>
<line x1="217.4" y1="356.7" x2="218.8" y2="356.7" stroke="#222" stroke-width="0.6"/>
<text x="216.6" y="349.64" font-size="3.8" text-anchor="end" fill="#555" stroke="#555" style="stroke-width:0.1px">20</text>
<line x1="217.4" y1="348.34" x2="218.8" y2="348.34" stroke="#222" stroke-width="0.6"/>
<text x="216.6" y="341.28" font-size="3.8" text-anchor="end" fill="#555" stroke="#555" style="stroke-width:0.1px">40</text>
<line x1="217.4" y1="339.98" x2="218.8" y2="339.98" stroke="#222" stroke-width="0.6"/>
<text x="216.6" y="332.92" font-size="3.8" text-anchor="end" fill="#555" stroke="#555" style="stroke-width:0.1px">60</text>
<line x1="217.4" y1="331.62" x2="218.8" y2="331.62" stroke="#222" stroke-width="0.6"/>
<text x="216.6" y="324.56" font-size="3.8" text-anchor="end" fill="#555" stroke="#555" style="stroke-width:0.1px">80</text>
<line x1="217.4" y1="323.26" x2="218.8" y2="323.26" stroke="#222" stroke-width="0.6"/>
<text x="216.6" y="316.2" font-size="3.8" text-anchor="end" fill="#555" stroke="#555" style="stroke-width:0.1px">100</text>
<line x1="217.4" y1="314.9" x2="218.8" y2="314.9" stroke="#222" stroke-width="0.6"/>
<text x="220.4" y="363.5" font-size="3.8" text-anchor="middle" fill="#666" stroke="#666">10<tspan font-size="2.5" dy="-1.5">0</tspan></text>
<line x1="220.4" y1="357.3" x2="220.4" y2="358.5" stroke="#222" stroke-width="0.6"/>
<text x="230.7" y="363.5" font-size="3.8" text-anchor="middle" fill="#666" stroke="#666">10<tspan font-size="2.5" dy="-1.5">1</tspan></text>
<line x1="230.7" y1="357.3" x2="230.7" y2="358.5" stroke="#222" stroke-width="0.6"/>
<text x="241" y="363.5" font-size="3.8" text-anchor="middle" fill="#666" stroke="#666">10<tspan font-size="2.5" dy="-1.5">2</tspan></text>
<line x1="241" y1="357.3" x2="241" y2="358.5" stroke="#222" stroke-width="0.6"/>
<text x="251.3" y="363.5" font-size="3.8" text-anchor="middle" fill="#666" stroke="#666">10<tspan font-size="2.5" dy="-1.5">3</tspan></text>
<line x1="251.3" y1="357.3" x2="251.3" y2="358.5" stroke="#222" stroke-width="0.6"/>
<text x="261.6" y="363.5" font-size="3.8" text-anchor="middle" fill="#666" stroke="#666">10<tspan font-size="2.5" dy="-1.5">4</tspan></text>
<line x1="261.6" y1="357.3" x2="261.6" y2="358.5" stroke="#222" stroke-width="0.6"/>
<rect x="218.8" y="313.5" width="44.2" height="43.8" fill="none" stroke="#111" stroke-width="1"/>
<text x="206.6" y="359.6" font-size="5.8" text-anchor="middle" fill="#111" stroke="#111" style="stroke-width:0.22px" transform="rotate(-90 206.6 359.6)">% max</text>
<path d="M209.6 367.3 V350.5" fill="none" stroke="#111" stroke-width="0.9"/>
<path d="M209.6 367.3 H228.6" fill="none" stroke="#111" stroke-width="0.9"/>
<path d="M208.1 351.5 L209.6 348.5 L211.1 351.5 Z" fill="#111"/>
<path d="M227.6 365.8 L230.4 367.3 L227.6 368.8 Z" fill="#111"/>
<text x="218" y="374.3" font-size="5.5" text-anchor="middle" fill="#111" stroke="#111" style="stroke-width:0.1px">CD71</text>
<text x="320.4" y="243" font-size="8.6" text-anchor="middle" fill="#111" stroke="#111" style="stroke-width:0.06px">Quantification</text>
<line x1="297.5" y1="257" x2="297.5" y2="312" stroke="#2a2a2a" stroke-width="1"/>
<line x1="294.5" y1="260.5" x2="297.5" y2="260.5" stroke="#2a2a2a" stroke-width="1"/>
<text x="292.1" y="262.51" font-size="6.4" text-anchor="end" fill="#1e1e1e" stroke="#1e1e1e" style="stroke-width:0.1px">2</text>
<line x1="294.5" y1="285.5" x2="297.5" y2="285.5" stroke="#2a2a2a" stroke-width="1"/>
<text x="292.1" y="287.81" font-size="6.4" text-anchor="end" fill="#1e1e1e" stroke="#1e1e1e" style="stroke-width:0.1px">1</text>
<line x1="294.5" y1="311.5" x2="297.5" y2="311.5" stroke="#2a2a2a" stroke-width="1"/>
<text x="292.1" y="313.11" font-size="6.4" text-anchor="end" fill="#1e1e1e" stroke="#1e1e1e" style="stroke-width:0.1px">0</text>
<line x1="297" y1="311.5" x2="343.5" y2="311.5" stroke="#2a2a2a" stroke-width="1"/>
<line x1="306.55" y1="285.7" x2="306.55" y2="283.93" stroke="#222" stroke-width="1"/>
<line x1="303.05" y1="283.93" x2="310.05" y2="283.93" stroke="#222" stroke-width="1"/>
<rect x="301.5" y="286" width="10.1" height="25" fill="#0a0a0a" stroke="#000" stroke-width="0.6"/>
<line x1="320.5" y1="261.16" x2="320.5" y2="256.1" stroke="#222" stroke-width="1"/>
<line x1="317" y1="256.1" x2="324" y2="256.1" stroke="#222" stroke-width="1"/>
<rect x="315.5" y="261.46" width="10" height="49.54" fill="#b3082c" stroke="#82102c" stroke-width="0.6"/>
<line x1="333.85" y1="292.28" x2="333.85" y2="290.25" stroke="#222" stroke-width="1"/>
<line x1="330.35" y1="290.25" x2="337.35" y2="290.25" stroke="#222" stroke-width="1"/>
<rect x="328.8" y="292.58" width="10.1" height="18.42" fill="#2e5393" stroke="#1e3670" stroke-width="0.6"/>
<line x1="309.5" y1="250.5" x2="320.2" y2="250.5" stroke="#1a1a1a" stroke-width="1"/>
<circle cx="314.7" cy="247.2" r="1.15" fill="#111"/>
<line x1="320.5" y1="252.5" x2="331.4" y2="252.5" stroke="#1a1a1a" stroke-width="1"/>
<circle cx="326.2" cy="250.1" r="1.15" fill="#111"/>
<line x1="297.5" y1="318.5" x2="297.5" y2="358" stroke="#2a2a2a" stroke-width="1"/>
<line x1="294.5" y1="319.5" x2="297.5" y2="319.5" stroke="#2a2a2a" stroke-width="1"/>
<line x1="294.5" y1="332.5" x2="297.5" y2="332.5" stroke="#2a2a2a" stroke-width="1"/>
<text x="292.1" y="334.61" font-size="6.4" text-anchor="end" fill="#1e1e1e" stroke="#1e1e1e" style="stroke-width:0.1px">1</text>
<line x1="294.5" y1="345.5" x2="297.5" y2="345.5" stroke="#2a2a2a" stroke-width="1"/>
<line x1="294.5" y1="357.5" x2="297.5" y2="357.5" stroke="#2a2a2a" stroke-width="1"/>
<text x="292.1" y="359.91" font-size="6.4" text-anchor="end" fill="#1e1e1e" stroke="#1e1e1e" style="stroke-width:0.1px">0</text>
<line x1="297" y1="357.5" x2="343.5" y2="357.5" stroke="#2a2a2a" stroke-width="1"/>
<line x1="306.55" y1="332.5" x2="306.55" y2="331.24" stroke="#222" stroke-width="1"/>
<line x1="303.05" y1="331.24" x2="310.05" y2="331.24" stroke="#222" stroke-width="1"/>
<rect x="301.5" y="332.8" width="10.1" height="25" fill="#0a0a0a" stroke="#000" stroke-width="0.6"/>
<line x1="320.5" y1="328.71" x2="320.5" y2="325.67" stroke="#222" stroke-width="1"/>
<line x1="317" y1="325.67" x2="324" y2="325.67" stroke="#222" stroke-width="1"/>
<rect x="315.5" y="329.01" width="10" height="28.79" fill="#b3082c" stroke="#82102c" stroke-width="0.6"/>
<line x1="333.85" y1="339.84" x2="333.85" y2="337.31" stroke="#222" stroke-width="1"/>
<line x1="330.35" y1="337.31" x2="337.35" y2="337.31" stroke="#222" stroke-width="1"/>
<rect x="328.8" y="340.14" width="10.1" height="17.66" fill="#2e5393" stroke="#1e3670" stroke-width="0.6"/>
<line x1="320.2" y1="322.5" x2="331.4" y2="322.5" stroke="#1a1a1a" stroke-width="1"/>
<circle cx="325.7" cy="317.5" r="1.15" fill="#111"/>
<text x="283.1" y="286.5" font-size="7.8" text-anchor="middle" fill="#111" stroke="#111" style="stroke-width:0.22px" transform="rotate(-90 283.1 286.5)">fold of WT</text>
<text x="282.9" y="338.9" font-size="7.6" text-anchor="middle" fill="#111" stroke="#111" style="stroke-width:0.22px" transform="rotate(-90 282.9 338.9)">fold of WT</text>
<text x="306.5" y="366.9" font-size="6.3" text-anchor="middle" fill="#1a1a1a" stroke="#1a1a1a" style="stroke-width:0.1px">WT</text>
<text x="320.4" y="366.9" font-size="6.3" text-anchor="middle" fill="#a3163e" stroke="#a3163e" font-style="italic" style="stroke-width:0.1px">E12</text>
<text x="334" y="366.9" font-size="6.3" text-anchor="middle" fill="#4a5894" stroke="#4a5894" font-style="italic" style="stroke-width:0.1px">VF</text>
<text x="95.5" y="416.2" font-size="8.7" text-anchor="middle" fill="#111" stroke="#111"><tspan font-style="italic">Erfe</tspan> mRNA</text>
<text x="54.5" y="425.8" font-size="5.2" text-anchor="middle" fill="#111" stroke="#111" style="stroke-width:0.1px">PB</text>
<text x="100.6" y="425.8" font-size="5.2" text-anchor="middle" fill="#111" stroke="#111" style="stroke-width:0.1px">BM</text>
<text x="135.8" y="425.8" font-size="5.2" text-anchor="middle" fill="#111" stroke="#111" style="stroke-width:0.1px">Spleen</text>
<line x1="33.5" y1="434.8" x2="33.5" y2="495" stroke="#2a2a2a" stroke-width="1"/>
<line x1="30.5" y1="437.5" x2="33.5" y2="437.5" stroke="#2a2a2a" stroke-width="1"/>
<text x="27.7" y="439.91" font-size="6.4" text-anchor="end" fill="#1e1e1e" stroke="#1e1e1e" style="stroke-width:0.1px">20</text>
<line x1="30.5" y1="451.5" x2="33.5" y2="451.5" stroke="#2a2a2a" stroke-width="1"/>
<line x1="30.5" y1="466.5" x2="33.5" y2="466.5" stroke="#2a2a2a" stroke-width="1"/>
<text x="27.7" y="468.11" font-size="6.4" text-anchor="end" fill="#1e1e1e" stroke="#1e1e1e" style="stroke-width:0.1px">10</text>
<line x1="30.5" y1="480.5" x2="33.5" y2="480.5" stroke="#2a2a2a" stroke-width="1"/>
<line x1="30.5" y1="494.5" x2="33.5" y2="494.5" stroke="#2a2a2a" stroke-width="1"/>
<text x="27.7" y="496.31" font-size="6.4" text-anchor="end" fill="#1e1e1e" stroke="#1e1e1e" style="stroke-width:0.1px">0</text>
<line x1="33" y1="494.5" x2="157.8" y2="494.5" stroke="#2a2a2a" stroke-width="1"/>
<line x1="40.8" y1="491.38" x2="40.8" y2="490.68" stroke="#222" stroke-width="1"/>
<line x1="37.55" y1="490.68" x2="44.05" y2="490.68" stroke="#222" stroke-width="1"/>
<rect x="35.8" y="491.68" width="10" height="2.52" fill="#0a0a0a" stroke="#000" stroke-width="0.6"/>
<line x1="53.5" y1="460.64" x2="53.5" y2="451.9" stroke="#222" stroke-width="1"/>
<line x1="50.25" y1="451.9" x2="56.75" y2="451.9" stroke="#222" stroke-width="1"/>
<rect x="48.5" y="460.94" width="10" height="33.26" fill="#b3082c" stroke="#82102c" stroke-width="0.6"/>
<line x1="66.35" y1="488.56" x2="66.35" y2="486.87" stroke="#222" stroke-width="1"/>
<line x1="63.1" y1="486.87" x2="69.6" y2="486.87" stroke="#222" stroke-width="1"/>
<rect x="61.3" y="488.86" width="10.1" height="5.34" fill="#2e5393" stroke="#1e3670" stroke-width="0.6"/>
<line x1="81.5" y1="491.38" x2="81.5" y2="489.69" stroke="#222" stroke-width="1"/>
<line x1="78.25" y1="489.69" x2="84.75" y2="489.69" stroke="#222" stroke-width="1"/>
<rect x="76.3" y="491.68" width="10.4" height="2.52" fill="#0a0a0a" stroke="#000" stroke-width="0.6"/>
<rect x="89.5" y="487.45" width="10.4" height="6.75" fill="#b3082c" stroke="#82102c" stroke-width="0.6"/>
<rect x="103.7" y="493.65" width="8.9" height="0.55" fill="#2e5393" stroke="#1e3670" stroke-width="0.6"/>
<rect x="117.8" y="491.4" width="10" height="2.8" fill="#0a0a0a" stroke="#000" stroke-width="0.6"/>
<line x1="135.9" y1="445.41" x2="135.9" y2="437.8" stroke="#222" stroke-width="1"/>
<line x1="132.65" y1="437.8" x2="139.15" y2="437.8" stroke="#222" stroke-width="1"/>
<rect x="130.7" y="445.71" width="10.4" height="48.49" fill="#b3082c" stroke="#82102c" stroke-width="0.6"/>
<line x1="149.4" y1="483.2" x2="149.4" y2="480.95" stroke="#222" stroke-width="1"/>
<line x1="146.15" y1="480.95" x2="152.65" y2="480.95" stroke="#222" stroke-width="1"/>
<rect x="144.5" y="483.5" width="9.8" height="10.7" fill="#2e5393" stroke="#1e3670" stroke-width="0.6"/>
<line x1="42.2" y1="449.5" x2="52.7" y2="449.5" stroke="#1a1a1a" stroke-width="1"/>
<circle cx="47.1" cy="445.1" r="1.15" fill="#111"/>
<line x1="54.5" y1="445.5" x2="65.5" y2="445.5" stroke="#1a1a1a" stroke-width="1"/>
<circle cx="59.9" cy="442.2" r="1.15" fill="#111"/>
<line x1="94.9" y1="480.5" x2="105.5" y2="480.5" stroke="#1a1a1a" stroke-width="1"/>
<circle cx="99.8" cy="475.7" r="1.15" fill="#111"/>
<line x1="124.5" y1="434.5" x2="134.5" y2="434.5" stroke="#1a1a1a" stroke-width="1"/>
<circle cx="129.4" cy="430.7" r="1.15" fill="#111"/>
<line x1="136.6" y1="436.5" x2="147.2" y2="436.5" stroke="#1a1a1a" stroke-width="1"/>
<circle cx="142.5" cy="431.7" r="1.15" fill="#111"/>
<text x="41.8" y="503" font-size="6.5" text-anchor="middle" fill="#1a1a1a" stroke="#1a1a1a" style="stroke-width:0.1px">WT</text>
<text x="53.8" y="503" font-size="6.5" text-anchor="middle" fill="#a3163e" stroke="#a3163e" font-style="italic" style="stroke-width:0.1px">E12</text>
<text x="65.6" y="503" font-size="6.5" text-anchor="middle" fill="#4a5894" stroke="#4a5894" font-style="italic" style="stroke-width:0.1px">VF</text>
<text x="82.2" y="503" font-size="6.5" text-anchor="middle" fill="#1a1a1a" stroke="#1a1a1a" style="stroke-width:0.1px">WT</text>
<text x="94" y="503" font-size="6.5" text-anchor="middle" fill="#a3163e" stroke="#a3163e" font-style="italic" style="stroke-width:0.1px">E12</text>
<text x="107.9" y="503" font-size="6.5" text-anchor="middle" fill="#4a5894" stroke="#4a5894" font-style="italic" style="stroke-width:0.1px">VF</text>
<text x="122.8" y="503" font-size="6.5" text-anchor="middle" fill="#1a1a1a" stroke="#1a1a1a" style="stroke-width:0.1px">WT</text>
<text x="135.2" y="503" font-size="6.5" text-anchor="middle" fill="#a3163e" stroke="#a3163e" font-style="italic" style="stroke-width:0.1px">E12</text>
<text x="149.3" y="503" font-size="6.5" text-anchor="middle" fill="#4a5894" stroke="#4a5894" font-style="italic" style="stroke-width:0.1px">VF</text>
<text x="14" y="467" font-size="7.8" text-anchor="middle" fill="#111" stroke="#111" style="stroke-width:0.22px" transform="rotate(-90 14 467)">fold of WT</text>
<text x="238.1" y="413.8" font-size="8.6" text-anchor="middle" fill="#111" stroke="#111" textLength="60" lengthAdjust="spacingAndGlyphs" style="stroke-width:0.06px">Hamp protein in</text>
<text x="238.3" y="424.2" font-size="8.6" text-anchor="middle" fill="#111" stroke="#111" textLength="87.2" lengthAdjust="spacingAndGlyphs" style="stroke-width:0.06px">serum of MPN patients</text>
<line x1="201.5" y1="443.4" x2="201.5" y2="507" stroke="#2a2a2a" stroke-width="1"/>
<line x1="198.5" y1="446.5" x2="201.5" y2="446.5" stroke="#2a2a2a" stroke-width="1"/>
<text x="195.4" y="448.31" font-size="6.4" text-anchor="end" fill="#1e1e1e" stroke="#1e1e1e" style="stroke-width:0.1px">40</text>
<line x1="198.5" y1="461.5" x2="201.5" y2="461.5" stroke="#2a2a2a" stroke-width="1"/>
<text x="195.4" y="463.36" font-size="6.4" text-anchor="end" fill="#1e1e1e" stroke="#1e1e1e" style="stroke-width:0.1px">30</text>
<line x1="198.5" y1="476.5" x2="201.5" y2="476.5" stroke="#2a2a2a" stroke-width="1"/>
<text x="195.4" y="478.41" font-size="6.4" text-anchor="end" fill="#1e1e1e" stroke="#1e1e1e" style="stroke-width:0.1px">20</text>
<line x1="198.5" y1="491.5" x2="201.5" y2="491.5" stroke="#2a2a2a" stroke-width="1"/>
<text x="195.4" y="493.46" font-size="6.4" text-anchor="end" fill="#1e1e1e" stroke="#1e1e1e" style="stroke-width:0.1px">10</text>
<line x1="198.5" y1="506.5" x2="201.5" y2="506.5" stroke="#2a2a2a" stroke-width="1"/>
<text x="195.4" y="508.51" font-size="6.4" text-anchor="end" fill="#1e1e1e" stroke="#1e1e1e" style="stroke-width:0.1px">0</text>
<line x1="201" y1="506.5" x2="274.8" y2="506.5" stroke="#2a2a2a" stroke-width="1"/>
<line x1="212.6" y1="492.85" x2="212.6" y2="495.86" stroke="#c0163e" stroke-width="1.1"/>
<line x1="212.6" y1="499.93" x2="212.6" y2="502.19" stroke="#c0163e" stroke-width="1.1"/>
<line x1="208.57" y1="492.85" x2="216.63" y2="492.85" stroke="#c0163e" stroke-width="1.2"/>
<line x1="208.57" y1="502.19" x2="216.63" y2="502.19" stroke="#c0163e" stroke-width="1.2"/>
<rect x="207" y="495.86" width="11.2" height="4.06" fill="#c0163e"/>
<line x1="207.6" y1="498.12" x2="217.6" y2="498.12" stroke="#f2c0c8" stroke-width="1.4"/>
<line x1="230.75" y1="477.96" x2="230.75" y2="489.54" stroke="#243c74" stroke-width="1.1"/>
<line x1="230.75" y1="499.48" x2="230.75" y2="502.19" stroke="#243c74" stroke-width="1.1"/>
<line x1="226.83" y1="477.96" x2="234.67" y2="477.96" stroke="#243c74" stroke-width="1.2"/>
<line x1="226.83" y1="502.19" x2="234.67" y2="502.19" stroke="#243c74" stroke-width="1.2"/>
<rect x="225.6" y="489.84" width="10.3" height="9.33" fill="#2e5393" stroke="#1e3670" stroke-width="0.6"/>
<line x1="225.9" y1="498.27" x2="235.6" y2="498.27" stroke="#d8e0f0" stroke-width="1.4"/>
<line x1="248.7" y1="464.56" x2="248.7" y2="488.94" stroke="#243c74" stroke-width="1.1"/>
<line x1="248.7" y1="501.58" x2="248.7" y2="503.39" stroke="#243c74" stroke-width="1.1"/>
<line x1="244.74" y1="464.56" x2="252.66" y2="464.56" stroke="#243c74" stroke-width="1.2"/>
<line x1="244.74" y1="503.39" x2="252.66" y2="503.39" stroke="#243c74" stroke-width="1.2"/>
<rect x="243.5" y="489.24" width="10.4" height="12.04" fill="#2e5393" stroke="#1e3670" stroke-width="0.6"/>
<line x1="243.8" y1="500.23" x2="253.6" y2="500.23" stroke="#d8e0f0" stroke-width="1.4"/>
<line x1="266.8" y1="446.95" x2="266.8" y2="452.07" stroke="#243c74" stroke-width="1.1"/>
<line x1="266.8" y1="488.94" x2="266.8" y2="499.48" stroke="#243c74" stroke-width="1.1"/>
<line x1="262.77" y1="446.95" x2="270.83" y2="446.95" stroke="#243c74" stroke-width="1.2"/>
<line x1="262.77" y1="499.48" x2="270.83" y2="499.48" stroke="#243c74" stroke-width="1.2"/>
<rect x="261.5" y="452.37" width="10.6" height="36.27" fill="#2e5393" stroke="#1e3670" stroke-width="0.6"/>
<line x1="261.8" y1="481.72" x2="271.8" y2="481.72" stroke="#d8e0f0" stroke-width="1.4"/>
<line x1="212.8" y1="442.5" x2="264.2" y2="442.5" stroke="#333" stroke-width="1"/>
<line x1="228" y1="438.9" x2="264.2" y2="438.9" stroke="#333" stroke-width="1"/>
<line x1="248" y1="435.1" x2="264.2" y2="435.1" stroke="#333" stroke-width="1"/>
<circle cx="215.4" cy="439.3" r="1.0" fill="#111"/>
<circle cx="219" cy="439.3" r="1.0" fill="#111"/>
<circle cx="222.4" cy="439.3" r="1.0" fill="#111"/>
<circle cx="238" cy="435.6" r="1.0" fill="#111"/>
<circle cx="241.6" cy="435.6" r="1.0" fill="#111"/>
<circle cx="245.2" cy="435.6" r="1.0" fill="#111"/>
<circle cx="258.7" cy="431.8" r="1.0" fill="#111"/>
<circle cx="262.2" cy="431.8" r="1.0" fill="#111"/>
<circle cx="265.8" cy="431.8" r="1.0" fill="#111"/>
<text x="213.3" y="515.6" font-size="6.6" text-anchor="middle" fill="#a3163e" stroke="#a3163e" font-style="italic" style="stroke-width:0.1px">Ex12</text>
<text x="230.2" y="515.6" font-size="6.6" text-anchor="middle" fill="#333" stroke="#333" style="stroke-width:0.1px">PV</text>
<text x="248.2" y="515.6" font-size="6.6" text-anchor="middle" fill="#333" stroke="#333" style="stroke-width:0.1px">ET</text>
<text x="265.7" y="515.6" font-size="6.6" text-anchor="middle" fill="#333" stroke="#333" style="stroke-width:0.1px">PMF</text>
<line x1="224.9" y1="518.1" x2="271.4" y2="518.1" stroke="#3a4a80" stroke-width="0.9"/>
<text x="209" y="526.8" font-size="6.6" text-anchor="middle" fill="#a3163e" stroke="#a3163e" style="stroke-width:0.1px">patients</text>
<text x="249.2" y="526.8" font-size="6.6" text-anchor="middle" fill="#333" stroke="#333"><tspan font-style="italic">V617F</tspan> patients</text>
<text x="182" y="478.8" font-size="8.1" text-anchor="middle" fill="#111" stroke="#111" style="stroke-width:0.22px" transform="rotate(-90 182 478.8)">ng/mL</text>
<text x="399.6" y="413.9" font-size="8.7" text-anchor="middle" fill="#111" stroke="#111" textLength="156" lengthAdjust="spacingAndGlyphs" style="stroke-width:0.06px">Analysis of mRNA expression in BFU-Es</text>
<text x="399.9" y="423.9" font-size="8.7" text-anchor="middle" fill="#111" stroke="#111" textLength="82.2" lengthAdjust="spacingAndGlyphs" style="stroke-width:0.06px">from patients with PV</text>
<text x="369.7" y="437.9" font-size="5.2" text-anchor="middle" fill="#111" stroke="#111" font-style="italic" style="stroke-width:0.1px">TFR1 mRNA</text>
<text x="472.3" y="438" font-size="5.2" text-anchor="middle" fill="#111" stroke="#111" font-style="italic" style="stroke-width:0.1px">ERFE mRNA</text>
<line x1="322.5" y1="443.2" x2="322.5" y2="507" stroke="#2a2a2a" stroke-width="1"/>
<line x1="319.5" y1="445.5" x2="322.5" y2="445.5" stroke="#2a2a2a" stroke-width="1"/>
<text x="316.6" y="447.16" font-size="6.4" text-anchor="end" fill="#1e1e1e" stroke="#1e1e1e" style="stroke-width:0.1px">3</text>
<line x1="319.5" y1="465.5" x2="322.5" y2="465.5" stroke="#2a2a2a" stroke-width="1"/>
<text x="316.6" y="467.61" font-size="6.4" text-anchor="end" fill="#1e1e1e" stroke="#1e1e1e" style="stroke-width:0.1px">2</text>
<line x1="319.5" y1="485.5" x2="322.5" y2="485.5" stroke="#2a2a2a" stroke-width="1"/>
<text x="316.6" y="488.06" font-size="6.4" text-anchor="end" fill="#1e1e1e" stroke="#1e1e1e" style="stroke-width:0.1px">1</text>
<line x1="319.5" y1="506.5" x2="322.5" y2="506.5" stroke="#2a2a2a" stroke-width="1"/>
<text x="316.6" y="508.51" font-size="6.4" text-anchor="end" fill="#1e1e1e" stroke="#1e1e1e" style="stroke-width:0.1px">0</text>
<line x1="322" y1="506.5" x2="415" y2="506.5" stroke="#2a2a2a" stroke-width="1"/>
<line x1="333.4" y1="469.18" x2="333.4" y2="463.86" stroke="#222" stroke-width="1"/>
<line x1="330.15" y1="463.86" x2="336.65" y2="463.86" stroke="#222" stroke-width="1"/>
<rect x="328.3" y="469.48" width="10.2" height="36.92" fill="#0a0a0a" stroke="#000" stroke-width="0.6"/>
<line x1="347.5" y1="465.91" x2="347.5" y2="459.37" stroke="#222" stroke-width="1"/>
<line x1="344.25" y1="459.37" x2="350.75" y2="459.37" stroke="#222" stroke-width="1"/>
<rect x="342.6" y="466.21" width="9.8" height="40.19" fill="#eda967" stroke="#c88a4c" stroke-width="0.6"/>
<line x1="380.75" y1="485.95" x2="380.75" y2="480.22" stroke="#222" stroke-width="1"/>
<line x1="377.5" y1="480.22" x2="384" y2="480.22" stroke="#222" stroke-width="1"/>
<rect x="375.6" y="486.25" width="10.3" height="20.15" fill="#0a0a0a" stroke="#000" stroke-width="0.6"/>
<line x1="394.25" y1="495.15" x2="394.25" y2="492.29" stroke="#222" stroke-width="1"/>
<line x1="391" y1="492.29" x2="397.5" y2="492.29" stroke="#222" stroke-width="1"/>
<rect x="388.8" y="495.45" width="10.9" height="10.95" fill="#5b9fdc" stroke="#3f80c0" stroke-width="0.6"/>
<line x1="408.1" y1="485.95" x2="408.1" y2="482.47" stroke="#222" stroke-width="1"/>
<line x1="404.85" y1="482.47" x2="411.35" y2="482.47" stroke="#222" stroke-width="1"/>
<rect x="402.6" y="486.25" width="11" height="20.15" fill="#2c4c8c" stroke="#1c3468" stroke-width="0.6"/>
<text x="359.6" y="500" font-size="4.8" text-anchor="middle" fill="#333" stroke="#333" style="stroke-width:0.1px">n.a.</text>
<line x1="334.7" y1="453.1" x2="392.4" y2="453.1" stroke="#222" stroke-width="1"/>
<line x1="346.9" y1="449.6" x2="392.4" y2="449.6" stroke="#222" stroke-width="1"/>
<circle cx="341.4" cy="446.8" r="1.0" fill="#111"/>
<circle cx="370.6" cy="444.6" r="1.0" fill="#111"/>
<text x="306.4" y="474" font-size="7.85" text-anchor="middle" fill="#111" stroke="#111" style="stroke-width:0.22px" transform="rotate(-90 306.4 474)">fold change</text>
<line x1="431.5" y1="443.2" x2="431.5" y2="507" stroke="#2a2a2a" stroke-width="1"/>
<line x1="428.5" y1="445.5" x2="431.5" y2="445.5" stroke="#2a2a2a" stroke-width="1"/>
<text x="426.3" y="447.16" font-size="6.4" text-anchor="end" fill="#1e1e1e" stroke="#1e1e1e" style="stroke-width:0.1px">3</text>
<line x1="428.5" y1="465.5" x2="431.5" y2="465.5" stroke="#2a2a2a" stroke-width="1"/>
<text x="426.3" y="467.61" font-size="6.4" text-anchor="end" fill="#1e1e1e" stroke="#1e1e1e" style="stroke-width:0.1px">2</text>
<line x1="428.5" y1="485.5" x2="431.5" y2="485.5" stroke="#2a2a2a" stroke-width="1"/>
<text x="426.3" y="488.06" font-size="6.4" text-anchor="end" fill="#1e1e1e" stroke="#1e1e1e" style="stroke-width:0.1px">1</text>
<line x1="428.5" y1="506.5" x2="431.5" y2="506.5" stroke="#2a2a2a" stroke-width="1"/>
<text x="426.3" y="508.51" font-size="6.4" text-anchor="end" fill="#1e1e1e" stroke="#1e1e1e" style="stroke-width:0.1px">0</text>
<line x1="431" y1="506.5" x2="513" y2="506.5" stroke="#2a2a2a" stroke-width="1"/>
<line x1="440.05" y1="494.13" x2="440.05" y2="490.86" stroke="#222" stroke-width="1"/>
<line x1="436.8" y1="490.86" x2="443.3" y2="490.86" stroke="#222" stroke-width="1"/>
<rect x="435" y="494.43" width="10.1" height="11.97" fill="#0a0a0a" stroke="#000" stroke-width="0.6"/>
<line x1="452.65" y1="473.07" x2="452.65" y2="465.91" stroke="#222" stroke-width="1"/>
<line x1="449.4" y1="465.91" x2="455.9" y2="465.91" stroke="#222" stroke-width="1"/>
<rect x="447.9" y="473.37" width="9.5" height="33.03" fill="#eda967" stroke="#c88a4c" stroke-width="0.6"/>
<line x1="479.4" y1="486.56" x2="479.4" y2="480.22" stroke="#222" stroke-width="1"/>
<line x1="476.15" y1="480.22" x2="482.65" y2="480.22" stroke="#222" stroke-width="1"/>
<rect x="474.3" y="486.86" width="10.2" height="19.54" fill="#0a0a0a" stroke="#000" stroke-width="0.6"/>
<line x1="491.85" y1="496.58" x2="491.85" y2="493.72" stroke="#222" stroke-width="1"/>
<line x1="488.6" y1="493.72" x2="495.1" y2="493.72" stroke="#222" stroke-width="1"/>
<rect x="487" y="496.88" width="9.7" height="9.52" fill="#5b9fdc" stroke="#3f80c0" stroke-width="0.6"/>
<line x1="504.35" y1="488.81" x2="504.35" y2="485.95" stroke="#222" stroke-width="1"/>
<line x1="501.1" y1="485.95" x2="507.6" y2="485.95" stroke="#222" stroke-width="1"/>
<rect x="499.5" y="489.11" width="9.7" height="17.29" fill="#2c4c8c" stroke="#1c3468" stroke-width="0.6"/>
<text x="464.4" y="503.6" font-size="4.8" text-anchor="middle" fill="#333" stroke="#333" style="stroke-width:0.1px">n.a.</text>
<line x1="441.6" y1="453.5" x2="452.5" y2="453.5" stroke="#1a1a1a" stroke-width="1"/>
<circle cx="447" cy="450.1" r="1.15" fill="#111"/>
<text x="333.8" y="514.9" font-size="6.1" text-anchor="middle" fill="#a82a55" stroke="#a82a55" font-style="italic" style="stroke-width:0.1px">WT</text>
<text x="347.8" y="514.9" font-size="6.1" text-anchor="middle" fill="#a82a55" stroke="#a82a55" font-style="italic" style="stroke-width:0.1px">het</text>
<text x="361.1" y="514.9" font-size="6.1" text-anchor="middle" fill="#a82a55" stroke="#a82a55" font-style="italic" style="stroke-width:0.1px">hom</text>
<line x1="328.3" y1="517.5" x2="366.7" y2="517.5" stroke="#a82a55" stroke-width="1"/>
<text x="347.6" y="526.3" font-size="6" text-anchor="middle" fill="#a82a55" stroke="#a82a55" font-style="italic" style="stroke-width:0.1px">Ex12</text>
<text x="380.8" y="514.9" font-size="6.1" text-anchor="middle" fill="#4a5684" stroke="#4a5684" font-style="italic" style="stroke-width:0.1px">WT</text>
<text x="395.4" y="514.9" font-size="6.1" text-anchor="middle" fill="#4a5684" stroke="#4a5684" font-style="italic" style="stroke-width:0.1px">het</text>
<text x="408.6" y="514.9" font-size="6.1" text-anchor="middle" fill="#4a5684" stroke="#4a5684" font-style="italic" style="stroke-width:0.1px">hom</text>
<line x1="375.3" y1="517.5" x2="414.6" y2="517.5" stroke="#4a5684" stroke-width="1"/>
<text x="394.4" y="526.3" font-size="6" text-anchor="middle" fill="#4a5684" stroke="#4a5684" font-style="italic" style="stroke-width:0.1px">V617F</text>
<text x="439.6" y="514.9" font-size="6.1" text-anchor="middle" fill="#a82a55" stroke="#a82a55" font-style="italic" style="stroke-width:0.1px">WT</text>
<text x="452.9" y="514.9" font-size="6.1" text-anchor="middle" fill="#a82a55" stroke="#a82a55" font-style="italic" style="stroke-width:0.1px">het</text>
<text x="466" y="514.9" font-size="6.1" text-anchor="middle" fill="#a82a55" stroke="#a82a55" font-style="italic" style="stroke-width:0.1px">hom</text>
<line x1="434.5" y1="517.5" x2="472.2" y2="517.5" stroke="#a82a55" stroke-width="1"/>
<text x="453.3" y="526.3" font-size="6" text-anchor="middle" fill="#a82a55" stroke="#a82a55" font-style="italic" style="stroke-width:0.1px">Ex12</text>
<text x="479.2" y="514.9" font-size="6.1" text-anchor="middle" fill="#4a5684" stroke="#4a5684" font-style="italic" style="stroke-width:0.1px">WT</text>
<text x="492.9" y="514.9" font-size="6.1" text-anchor="middle" fill="#4a5684" stroke="#4a5684" font-style="italic" style="stroke-width:0.1px">het</text>
<text x="505" y="514.9" font-size="6.1" text-anchor="middle" fill="#4a5684" stroke="#4a5684" font-style="italic" style="stroke-width:0.1px">hom</text>
<line x1="473.4" y1="517.5" x2="510.9" y2="517.5" stroke="#4a5684" stroke-width="1"/>
<text x="493" y="526.3" font-size="6" text-anchor="middle" fill="#4a5684" stroke="#4a5684" font-style="italic" style="stroke-width:0.1px">V617F</text></svg>
</body></html>
